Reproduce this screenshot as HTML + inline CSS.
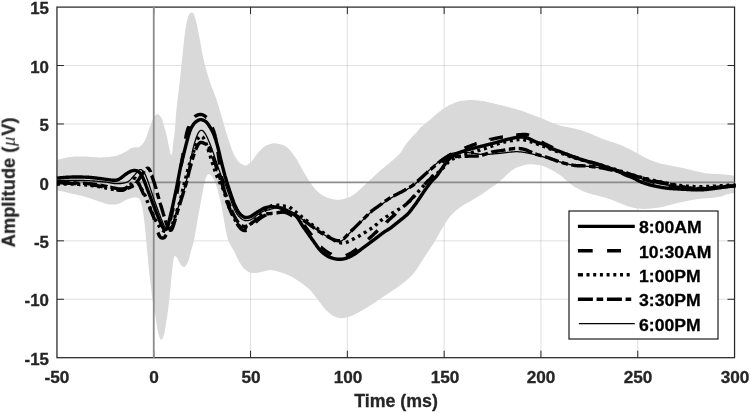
<!DOCTYPE html><html><head><meta charset="utf-8"><title>chart</title><style>
html,body{margin:0;padding:0;background:#fff}
#c{position:relative;width:750px;height:413px;overflow:hidden;background:#fff;font-family:"Liberation Sans",sans-serif;font-weight:bold;color:#262626}
.t{position:absolute;white-space:nowrap;line-height:1;will-change:transform;-webkit-text-stroke:0.3px #262626}
.yt{font-size:16.4px;text-align:right;width:40px;left:8.8px;transform-origin:100% 50%;transform:scaleX(1.03)}
.xt{font-size:16.4px;text-align:center;width:60px;transform:scaleX(1.05)}
.lg{font-size:17.2px;left:638.8px;color:#000;-webkit-text-stroke:0.3px #000;transform-origin:0 50%;transform:scaleX(1.025)}
</style></head><body><div id="c">
<svg width="750" height="413" viewBox="0 0 750 413" style="position:absolute;left:0;top:0">
<rect x="0" y="0" width="750" height="413" fill="#fff"/>
<path d="M250.55,7.1 V357.7 M347.35,7.1 V357.7 M444.15,7.1 V357.7 M540.95,7.1 V357.7 M637.75,7.1 V357.7" stroke="#000" stroke-opacity="0.125" stroke-width="1" fill="none"/>
<path d="M56.95,65.53 H734.55 M56.95,123.97 H734.55 M56.95,240.83 H734.55 M56.95,299.27 H734.55" stroke="#000" stroke-opacity="0.125" stroke-width="1" fill="none"/>
<path d="M57.0,159.8 L57.5,159.7 L58.0,159.6 L58.5,159.5 L59.0,159.4 L59.5,159.3 L60.0,159.2 L60.5,159.1 L61.0,159.0 L61.5,158.9 L62.0,158.7 L62.5,158.6 L63.0,158.5 L63.5,158.3 L64.0,158.2 L64.5,158.1 L65.0,158.0 L65.5,157.8 L66.0,157.7 L66.5,157.6 L67.0,157.5 L67.5,157.4 L68.0,157.3 L68.5,157.2 L69.0,157.1 L69.5,157.1 L70.0,157.0 L70.5,157.0 L71.0,156.9 L71.5,156.9 L72.0,156.8 L72.5,156.8 L73.0,156.7 L73.5,156.7 L74.0,156.7 L74.5,156.6 L75.0,156.6 L75.5,156.6 L76.0,156.5 L76.5,156.5 L77.0,156.5 L77.5,156.4 L78.0,156.4 L78.5,156.4 L79.0,156.4 L79.5,156.4 L80.0,156.4 L80.5,156.4 L81.0,156.4 L81.5,156.4 L82.0,156.4 L82.5,156.4 L83.0,156.5 L83.5,156.5 L84.0,156.5 L84.5,156.5 L85.0,156.5 L85.5,156.6 L86.0,156.6 L86.5,156.6 L87.0,156.6 L87.5,156.7 L88.0,156.7 L88.5,156.7 L89.0,156.7 L89.5,156.8 L90.0,156.8 L90.5,156.8 L91.0,156.9 L91.5,156.9 L92.0,156.9 L92.5,157.0 L93.0,157.0 L93.5,157.0 L94.0,157.1 L94.5,157.1 L95.0,157.2 L95.5,157.2 L96.0,157.2 L96.5,157.3 L97.0,157.3 L97.5,157.3 L98.0,157.4 L98.5,157.4 L99.0,157.4 L99.5,157.4 L100.0,157.4 L100.5,157.4 L101.0,157.4 L101.5,157.4 L102.0,157.4 L102.5,157.3 L103.0,157.3 L103.5,157.3 L104.0,157.3 L104.5,157.2 L105.0,157.2 L105.5,157.2 L106.0,157.1 L106.5,157.1 L107.0,157.1 L107.5,157.0 L108.0,157.0 L108.5,157.0 L109.0,156.9 L109.5,156.9 L110.0,156.8 L110.5,156.8 L111.0,156.7 L111.5,156.6 L112.0,156.5 L112.5,156.5 L113.0,156.4 L113.5,156.3 L114.0,156.2 L114.5,156.1 L115.0,156.0 L115.5,155.9 L116.0,155.8 L116.5,155.7 L117.0,155.5 L117.5,155.4 L118.0,155.2 L118.5,155.0 L119.0,154.8 L119.5,154.6 L120.0,154.4 L120.5,154.2 L121.0,153.9 L121.5,153.7 L122.0,153.5 L122.5,153.3 L123.0,153.0 L123.5,152.8 L124.0,152.6 L124.5,152.3 L125.0,152.0 L125.5,151.8 L126.0,151.5 L126.5,151.2 L127.0,150.9 L127.5,150.6 L128.0,150.3 L128.5,149.9 L129.0,149.5 L129.5,149.2 L130.0,148.8 L130.5,148.5 L131.0,148.2 L131.5,148.0 L132.0,147.8 L132.5,147.7 L133.0,147.6 L133.5,147.5 L134.0,147.4 L134.5,147.3 L135.0,147.3 L135.5,147.2 L136.0,147.2 L136.5,147.2 L137.0,147.2 L137.5,147.3 L138.0,147.3 L138.5,147.3 L139.0,147.1 L139.5,146.8 L140.0,146.4 L140.5,146.0 L141.0,145.5 L141.5,145.0 L142.0,144.6 L142.5,144.0 L143.0,143.4 L143.5,142.8 L144.0,142.1 L144.5,141.3 L145.0,140.4 L145.5,139.3 L146.0,138.0 L146.5,136.7 L147.0,135.4 L147.5,134.0 L148.0,132.6 L148.5,131.1 L149.0,129.6 L149.5,128.0 L150.0,126.6 L150.5,125.2 L151.0,123.9 L151.5,122.5 L152.0,121.2 L152.5,119.9 L153.0,118.7 L153.5,117.7 L154.0,116.8 L154.5,116.2 L155.0,115.7 L155.5,115.2 L156.0,114.8 L156.5,114.5 L157.0,114.3 L157.5,114.2 L158.0,114.3 L158.5,114.6 L159.0,115.1 L159.5,115.5 L160.0,116.0 L160.5,116.5 L161.0,117.2 L161.5,118.0 L162.0,119.1 L162.5,120.6 L163.0,122.4 L163.5,124.2 L164.0,126.0 L164.5,127.7 L165.0,129.4 L165.5,131.1 L166.0,132.9 L166.5,134.9 L167.0,137.1 L167.5,139.6 L168.0,142.1 L168.5,144.7 L169.0,147.0 L169.5,149.4 L170.0,151.9 L170.5,154.0 L171.0,155.3 L171.5,155.1 L172.0,153.4 L172.5,150.4 L173.0,144.3 L173.5,140.4 L174.0,137.5 L174.5,134.2 L175.0,128.7 L175.5,121.4 L176.0,114.4 L176.5,109.0 L177.0,104.2 L177.5,99.8 L178.0,95.6 L178.5,91.5 L179.0,87.3 L179.5,83.0 L180.0,78.5 L180.5,74.0 L181.0,69.5 L181.5,64.9 L182.0,60.3 L182.5,55.5 L183.0,50.4 L183.5,45.2 L184.0,40.3 L184.5,35.9 L185.0,32.2 L185.5,29.0 L186.0,26.0 L186.5,23.2 L187.0,20.7 L187.5,18.7 L188.0,17.1 L188.5,15.8 L189.0,14.7 L189.5,13.9 L190.0,13.3 L190.5,12.9 L191.0,12.6 L191.5,12.5 L192.0,12.6 L192.5,12.8 L193.0,13.2 L193.5,13.7 L194.0,14.7 L194.5,16.0 L195.0,17.5 L195.5,19.1 L196.0,20.9 L196.5,23.0 L197.0,25.3 L197.5,27.7 L198.0,30.2 L198.5,32.7 L199.0,35.2 L199.5,37.7 L200.0,40.4 L200.5,43.2 L201.0,46.1 L201.5,49.0 L202.0,51.8 L202.5,54.5 L203.0,56.9 L203.5,59.2 L204.0,61.3 L204.5,63.3 L205.0,65.3 L205.5,67.1 L206.0,69.0 L206.5,70.8 L207.0,72.5 L207.5,74.2 L208.0,75.8 L208.5,77.4 L209.0,79.0 L209.5,80.6 L210.0,82.1 L210.5,83.6 L211.0,85.0 L211.5,86.4 L212.0,87.7 L212.5,89.0 L213.0,90.3 L213.5,91.6 L214.0,92.8 L214.5,94.1 L215.0,95.4 L215.5,96.7 L216.0,98.1 L216.5,99.6 L217.0,101.1 L217.5,102.7 L218.0,104.3 L218.5,106.0 L219.0,107.6 L219.5,109.3 L220.0,111.0 L220.5,112.7 L221.0,114.5 L221.5,116.2 L222.0,117.9 L222.5,119.5 L223.0,121.2 L223.5,122.9 L224.0,124.7 L224.5,126.4 L225.0,128.1 L225.5,129.9 L226.0,131.6 L226.5,133.3 L227.0,134.9 L227.5,136.5 L228.0,138.1 L228.5,139.6 L229.0,141.1 L229.5,142.6 L230.0,144.1 L230.5,145.6 L231.0,147.1 L231.5,148.5 L232.0,149.9 L232.5,151.2 L233.0,152.5 L233.5,153.6 L234.0,154.7 L234.5,155.6 L235.0,156.4 L235.5,157.3 L236.0,158.1 L236.5,158.9 L237.0,159.6 L237.5,160.4 L238.0,161.0 L238.5,161.6 L239.0,162.2 L239.5,162.6 L240.0,163.1 L240.5,163.4 L241.0,163.7 L241.5,164.0 L242.0,164.3 L242.5,164.5 L243.0,164.8 L243.5,165.0 L244.0,165.2 L244.5,165.3 L245.0,165.4 L245.5,165.4 L246.0,165.4 L246.5,165.2 L247.0,165.0 L247.5,164.7 L248.0,164.4 L248.5,164.0 L249.0,163.6 L249.5,163.2 L250.0,162.8 L250.5,162.4 L251.0,162.0 L251.5,161.5 L252.0,160.9 L252.5,160.3 L253.0,159.7 L253.5,159.0 L254.0,158.3 L254.5,157.6 L255.0,156.9 L255.5,156.1 L256.0,155.4 L256.5,154.7 L257.0,154.1 L257.5,153.4 L258.0,152.8 L258.5,152.3 L259.0,151.8 L259.5,151.3 L260.0,150.7 L260.5,150.2 L261.0,149.7 L261.5,149.2 L262.0,148.7 L262.5,148.2 L263.0,147.7 L263.5,147.3 L264.0,146.9 L264.5,146.5 L265.0,146.2 L265.5,145.8 L266.0,145.6 L266.5,145.3 L267.0,145.1 L267.5,145.0 L268.0,144.8 L268.5,144.6 L269.0,144.4 L269.5,144.2 L270.0,144.1 L270.5,143.9 L271.0,143.8 L271.5,143.7 L272.0,143.6 L272.5,143.5 L273.0,143.4 L273.5,143.4 L274.0,143.3 L274.5,143.3 L275.0,143.3 L275.5,143.3 L276.0,143.4 L276.5,143.5 L277.0,143.5 L277.5,143.6 L278.0,143.7 L278.5,143.9 L279.0,144.0 L279.5,144.1 L280.0,144.2 L280.5,144.3 L281.0,144.4 L281.5,144.6 L282.0,144.7 L282.5,144.9 L283.0,145.1 L283.5,145.3 L284.0,145.5 L284.5,145.7 L285.0,146.0 L285.5,146.2 L286.0,146.6 L286.5,146.9 L287.0,147.3 L287.5,147.8 L288.0,148.2 L288.5,148.7 L289.0,149.2 L289.5,149.7 L290.0,150.2 L290.5,150.8 L291.0,151.4 L291.5,152.0 L292.0,152.7 L292.5,153.3 L293.0,154.0 L293.5,154.7 L294.0,155.4 L294.5,156.1 L295.0,156.8 L295.5,157.6 L296.0,158.3 L296.5,159.1 L297.0,159.8 L297.5,160.7 L298.0,161.5 L298.5,162.4 L299.0,163.3 L299.5,164.2 L300.0,165.1 L300.5,166.1 L301.0,167.0 L301.5,167.9 L302.0,168.8 L302.5,169.8 L303.0,170.7 L303.5,171.5 L304.0,172.4 L304.5,173.2 L305.0,174.1 L305.5,175.0 L306.0,175.8 L306.5,176.7 L307.0,177.5 L307.5,178.3 L308.0,179.1 L308.5,179.9 L309.0,180.7 L309.5,181.5 L310.0,182.2 L310.5,182.9 L311.0,183.6 L311.5,184.3 L312.0,185.0 L312.5,185.7 L313.0,186.4 L313.5,187.0 L314.0,187.6 L314.5,188.2 L315.0,188.8 L315.5,189.4 L316.0,189.9 L316.5,190.4 L317.0,190.9 L317.5,191.4 L318.0,191.8 L318.5,192.3 L319.0,192.7 L319.5,193.2 L320.0,193.6 L320.5,194.0 L321.0,194.3 L321.5,194.7 L322.0,195.0 L322.5,195.3 L323.0,195.6 L323.5,195.8 L324.0,196.1 L324.5,196.4 L325.0,196.6 L325.5,196.9 L326.0,197.1 L326.5,197.3 L327.0,197.5 L327.5,197.7 L328.0,197.9 L328.5,198.1 L329.0,198.3 L329.5,198.4 L330.0,198.5 L330.5,198.6 L331.0,198.8 L331.5,198.9 L332.0,199.0 L332.5,199.1 L333.0,199.2 L333.5,199.3 L334.0,199.4 L334.5,199.5 L335.0,199.5 L335.5,199.6 L336.0,199.7 L336.5,199.7 L337.0,199.8 L337.5,199.8 L338.0,199.8 L338.5,199.8 L339.0,199.8 L339.5,199.7 L340.0,199.7 L340.5,199.6 L341.0,199.5 L341.5,199.5 L342.0,199.4 L342.5,199.2 L343.0,199.1 L343.5,199.0 L344.0,198.9 L344.5,198.7 L345.0,198.6 L345.5,198.4 L346.0,198.3 L346.5,198.1 L347.0,198.0 L347.5,197.8 L348.0,197.6 L348.5,197.4 L349.0,197.2 L349.5,196.9 L350.0,196.7 L350.5,196.4 L351.0,196.2 L351.5,195.9 L352.0,195.6 L352.5,195.3 L353.0,195.0 L353.5,194.7 L354.0,194.4 L354.5,194.0 L355.0,193.7 L355.5,193.3 L356.0,192.9 L356.5,192.5 L357.0,192.1 L357.5,191.7 L358.0,191.2 L358.5,190.8 L359.0,190.3 L359.5,189.8 L360.0,189.3 L360.5,188.9 L361.0,188.4 L361.5,187.9 L362.0,187.5 L362.5,187.0 L363.0,186.6 L363.5,186.1 L364.0,185.6 L364.5,185.2 L365.0,184.7 L365.5,184.3 L366.0,183.8 L366.5,183.3 L367.0,182.9 L367.5,182.4 L368.0,181.9 L368.5,181.5 L369.0,181.0 L369.5,180.6 L370.0,180.1 L370.5,179.6 L371.0,179.1 L371.5,178.7 L372.0,178.2 L372.5,177.7 L373.0,177.3 L373.5,176.8 L374.0,176.3 L374.5,175.9 L375.0,175.4 L375.5,174.9 L376.0,174.5 L376.5,174.0 L377.0,173.5 L377.5,173.1 L378.0,172.6 L378.5,172.2 L379.0,171.7 L379.5,171.3 L380.0,170.8 L380.5,170.4 L381.0,170.0 L381.5,169.5 L382.0,169.1 L382.5,168.7 L383.0,168.3 L383.5,167.9 L384.0,167.4 L384.5,167.0 L385.0,166.6 L385.5,166.2 L386.0,165.8 L386.5,165.4 L387.0,165.0 L387.5,164.6 L388.0,164.2 L388.5,163.8 L389.0,163.4 L389.5,163.0 L390.0,162.5 L390.5,162.1 L391.0,161.7 L391.5,161.3 L392.0,160.8 L392.5,160.4 L393.0,159.9 L393.5,159.5 L394.0,159.1 L394.5,158.7 L395.0,158.2 L395.5,157.8 L396.0,157.3 L396.5,156.9 L397.0,156.4 L397.5,156.0 L398.0,155.5 L398.5,155.0 L399.0,154.4 L399.5,153.9 L400.0,153.3 L400.5,152.7 L401.0,151.9 L401.5,151.2 L402.0,150.4 L402.5,149.5 L403.0,148.7 L403.5,147.9 L404.0,147.1 L404.5,146.3 L405.0,145.6 L405.5,145.0 L406.0,144.3 L406.5,143.6 L407.0,143.0 L407.5,142.3 L408.0,141.7 L408.5,141.1 L409.0,140.5 L409.5,139.9 L410.0,139.3 L410.5,138.7 L411.0,138.2 L411.5,137.6 L412.0,137.1 L412.5,136.6 L413.0,136.1 L413.5,135.6 L414.0,135.1 L414.5,134.5 L415.0,134.0 L415.5,133.5 L416.0,133.0 L416.5,132.4 L417.0,131.9 L417.5,131.3 L418.0,130.6 L418.5,130.0 L419.0,129.4 L419.5,128.8 L420.0,128.3 L420.5,127.8 L421.0,127.3 L421.5,126.8 L422.0,126.4 L422.5,125.9 L423.0,125.5 L423.5,125.1 L424.0,124.6 L424.5,124.2 L425.0,123.8 L425.5,123.4 L426.0,123.0 L426.5,122.6 L427.0,122.2 L427.5,121.8 L428.0,121.4 L428.5,121.0 L429.0,120.6 L429.5,120.2 L430.0,119.8 L430.5,119.3 L431.0,118.9 L431.5,118.5 L432.0,118.0 L432.5,117.6 L433.0,117.1 L433.5,116.7 L434.0,116.3 L434.5,115.8 L435.0,115.4 L435.5,114.9 L436.0,114.5 L436.5,114.1 L437.0,113.6 L437.5,113.2 L438.0,112.8 L438.5,112.4 L439.0,112.0 L439.5,111.6 L440.0,111.2 L440.5,110.9 L441.0,110.5 L441.5,110.2 L442.0,109.8 L442.5,109.4 L443.0,109.1 L443.5,108.7 L444.0,108.4 L444.5,108.1 L445.0,107.7 L445.5,107.4 L446.0,107.1 L446.5,106.8 L447.0,106.5 L447.5,106.2 L448.0,105.9 L448.5,105.6 L449.0,105.3 L449.5,105.1 L450.0,104.8 L450.5,104.6 L451.0,104.4 L451.5,104.2 L452.0,103.9 L452.5,103.7 L453.0,103.5 L453.5,103.3 L454.0,103.0 L454.5,102.8 L455.0,102.6 L455.5,102.4 L456.0,102.3 L456.5,102.1 L457.0,101.9 L457.5,101.8 L458.0,101.6 L458.5,101.5 L459.0,101.4 L459.5,101.2 L460.0,101.1 L460.5,101.1 L461.0,101.0 L461.5,100.9 L462.0,100.8 L462.5,100.8 L463.0,100.7 L463.5,100.6 L464.0,100.6 L464.5,100.5 L465.0,100.4 L465.5,100.4 L466.0,100.3 L466.5,100.3 L467.0,100.2 L467.5,100.2 L468.0,100.2 L468.5,100.1 L469.0,100.1 L469.5,100.1 L470.0,100.1 L470.5,100.1 L471.0,100.1 L471.5,100.1 L472.0,100.1 L472.5,100.1 L473.0,100.2 L473.5,100.2 L474.0,100.2 L474.5,100.2 L475.0,100.3 L475.5,100.3 L476.0,100.3 L476.5,100.4 L477.0,100.4 L477.5,100.4 L478.0,100.5 L478.5,100.5 L479.0,100.6 L479.5,100.6 L480.0,100.7 L480.5,100.7 L481.0,100.8 L481.5,100.8 L482.0,100.9 L482.5,101.0 L483.0,101.1 L483.5,101.1 L484.0,101.2 L484.5,101.3 L485.0,101.4 L485.5,101.6 L486.0,101.7 L486.5,101.8 L487.0,101.9 L487.5,102.0 L488.0,102.1 L488.5,102.2 L489.0,102.4 L489.5,102.5 L490.0,102.6 L490.5,102.7 L491.0,102.8 L491.5,102.9 L492.0,103.0 L492.5,103.1 L493.0,103.3 L493.5,103.4 L494.0,103.5 L494.5,103.6 L495.0,103.7 L495.5,103.9 L496.0,104.0 L496.5,104.1 L497.0,104.2 L497.5,104.4 L498.0,104.5 L498.5,104.6 L499.0,104.7 L499.5,104.9 L500.0,105.0 L500.5,105.1 L501.0,105.2 L501.5,105.3 L502.0,105.5 L502.5,105.6 L503.0,105.7 L503.5,105.9 L504.0,106.0 L504.5,106.1 L505.0,106.2 L505.5,106.4 L506.0,106.5 L506.5,106.6 L507.0,106.7 L507.5,106.9 L508.0,107.0 L508.5,107.1 L509.0,107.3 L509.5,107.4 L510.0,107.5 L510.5,107.7 L511.0,107.8 L511.5,107.9 L512.0,108.1 L512.5,108.2 L513.0,108.3 L513.5,108.5 L514.0,108.6 L514.5,108.7 L515.0,108.9 L515.5,109.0 L516.0,109.1 L516.5,109.3 L517.0,109.4 L517.5,109.6 L518.0,109.7 L518.5,109.9 L519.0,110.0 L519.5,110.2 L520.0,110.3 L520.5,110.5 L521.0,110.6 L521.5,110.8 L522.0,111.0 L522.5,111.1 L523.0,111.3 L523.5,111.5 L524.0,111.7 L524.5,111.8 L525.0,112.0 L525.5,112.2 L526.0,112.4 L526.5,112.6 L527.0,112.8 L527.5,113.0 L528.0,113.2 L528.5,113.4 L529.0,113.5 L529.5,113.7 L530.0,113.9 L530.5,114.1 L531.0,114.3 L531.5,114.5 L532.0,114.6 L532.5,114.8 L533.0,115.0 L533.5,115.2 L534.0,115.4 L534.5,115.5 L535.0,115.7 L535.5,115.9 L536.0,116.1 L536.5,116.3 L537.0,116.5 L537.5,116.6 L538.0,116.8 L538.5,117.0 L539.0,117.2 L539.5,117.4 L540.0,117.6 L540.5,117.8 L541.0,118.0 L541.5,118.2 L542.0,118.4 L542.5,118.6 L543.0,118.8 L543.5,119.1 L544.0,119.3 L544.5,119.5 L545.0,119.7 L545.5,119.9 L546.0,120.2 L546.5,120.4 L547.0,120.6 L547.5,120.8 L548.0,121.0 L548.5,121.3 L549.0,121.5 L549.5,121.7 L550.0,121.9 L550.5,122.1 L551.0,122.3 L551.5,122.5 L552.0,122.7 L552.5,122.9 L553.0,123.1 L553.5,123.3 L554.0,123.5 L554.5,123.7 L555.0,123.9 L555.5,124.1 L556.0,124.3 L556.5,124.5 L557.0,124.7 L557.5,124.8 L558.0,125.0 L558.5,125.2 L559.0,125.3 L559.5,125.5 L560.0,125.6 L560.5,125.8 L561.0,125.9 L561.5,126.0 L562.0,126.1 L562.5,126.2 L563.0,126.3 L563.5,126.4 L564.0,126.5 L564.5,126.6 L565.0,126.7 L565.5,126.8 L566.0,126.9 L566.5,127.0 L567.0,127.0 L567.5,127.1 L568.0,127.2 L568.5,127.3 L569.0,127.4 L569.5,127.5 L570.0,127.6 L570.5,127.7 L571.0,127.8 L571.5,127.9 L572.0,128.0 L572.5,128.2 L573.0,128.3 L573.5,128.4 L574.0,128.5 L574.5,128.6 L575.0,128.7 L575.5,128.8 L576.0,129.0 L576.5,129.1 L577.0,129.2 L577.5,129.3 L578.0,129.4 L578.5,129.6 L579.0,129.7 L579.5,129.8 L580.0,130.0 L580.5,130.1 L581.0,130.3 L581.5,130.4 L582.0,130.6 L582.5,130.7 L583.0,130.9 L583.5,131.1 L584.0,131.2 L584.5,131.4 L585.0,131.6 L585.5,131.8 L586.0,132.0 L586.5,132.2 L587.0,132.3 L587.5,132.5 L588.0,132.7 L588.5,132.9 L589.0,133.1 L589.5,133.3 L590.0,133.5 L590.5,133.7 L591.0,133.9 L591.5,134.1 L592.0,134.3 L592.5,134.5 L593.0,134.8 L593.5,135.0 L594.0,135.2 L594.5,135.4 L595.0,135.7 L595.5,135.9 L596.0,136.1 L596.5,136.4 L597.0,136.6 L597.5,136.8 L598.0,137.1 L598.5,137.3 L599.0,137.5 L599.5,137.7 L600.0,137.9 L600.5,138.1 L601.0,138.3 L601.5,138.5 L602.0,138.7 L602.5,138.8 L603.0,139.0 L603.5,139.2 L604.0,139.4 L604.5,139.5 L605.0,139.7 L605.5,139.8 L606.0,140.0 L606.5,140.2 L607.0,140.3 L607.5,140.5 L608.0,140.7 L608.5,140.8 L609.0,141.0 L609.5,141.2 L610.0,141.3 L610.5,141.5 L611.0,141.7 L611.5,141.8 L612.0,142.0 L612.5,142.2 L613.0,142.3 L613.5,142.5 L614.0,142.7 L614.5,142.8 L615.0,143.0 L615.5,143.2 L616.0,143.4 L616.5,143.5 L617.0,143.7 L617.5,143.9 L618.0,144.1 L618.5,144.2 L619.0,144.4 L619.5,144.6 L620.0,144.8 L620.5,145.0 L621.0,145.2 L621.5,145.4 L622.0,145.6 L622.5,145.8 L623.0,146.0 L623.5,146.3 L624.0,146.5 L624.5,146.7 L625.0,146.9 L625.5,147.2 L626.0,147.4 L626.5,147.6 L627.0,147.9 L627.5,148.1 L628.0,148.4 L628.5,148.6 L629.0,148.9 L629.5,149.1 L630.0,149.4 L630.5,149.6 L631.0,149.9 L631.5,150.1 L632.0,150.4 L632.5,150.6 L633.0,150.9 L633.5,151.2 L634.0,151.5 L634.5,151.8 L635.0,152.0 L635.5,152.3 L636.0,152.6 L636.5,152.9 L637.0,153.2 L637.5,153.5 L638.0,153.7 L638.5,154.0 L639.0,154.3 L639.5,154.6 L640.0,154.8 L640.5,155.1 L641.0,155.4 L641.5,155.6 L642.0,155.9 L642.5,156.2 L643.0,156.4 L643.5,156.7 L644.0,157.0 L644.5,157.2 L645.0,157.5 L645.5,157.7 L646.0,158.0 L646.5,158.3 L647.0,158.5 L647.5,158.8 L648.0,159.0 L648.5,159.2 L649.0,159.5 L649.5,159.7 L650.0,159.9 L650.5,160.1 L651.0,160.3 L651.5,160.5 L652.0,160.7 L652.5,160.9 L653.0,161.1 L653.5,161.3 L654.0,161.4 L654.5,161.6 L655.0,161.8 L655.5,162.0 L656.0,162.2 L656.5,162.3 L657.0,162.5 L657.5,162.6 L658.0,162.8 L658.5,162.9 L659.0,163.1 L659.5,163.2 L660.0,163.4 L660.5,163.5 L661.0,163.6 L661.5,163.8 L662.0,163.9 L662.5,164.0 L663.0,164.1 L663.5,164.2 L664.0,164.3 L664.5,164.4 L665.0,164.5 L665.5,164.6 L666.0,164.7 L666.5,164.8 L667.0,164.9 L667.5,165.0 L668.0,165.1 L668.5,165.2 L669.0,165.3 L669.5,165.4 L670.0,165.5 L670.5,165.6 L671.0,165.7 L671.5,165.8 L672.0,165.9 L672.5,166.0 L673.0,166.1 L673.5,166.2 L674.0,166.3 L674.5,166.4 L675.0,166.5 L675.5,166.6 L676.0,166.7 L676.5,166.8 L677.0,166.9 L677.5,167.0 L678.0,167.1 L678.5,167.2 L679.0,167.3 L679.5,167.4 L680.0,167.5 L680.5,167.6 L681.0,167.7 L681.5,167.8 L682.0,167.9 L682.5,168.0 L683.0,168.1 L683.5,168.2 L684.0,168.3 L684.5,168.4 L685.0,168.5 L685.5,168.6 L686.0,168.8 L686.5,168.9 L687.0,169.0 L687.5,169.1 L688.0,169.3 L688.5,169.4 L689.0,169.5 L689.5,169.6 L690.0,169.8 L690.5,169.9 L691.0,170.0 L691.5,170.1 L692.0,170.3 L692.5,170.4 L693.0,170.5 L693.5,170.6 L694.0,170.7 L694.5,170.9 L695.0,171.0 L695.5,171.1 L696.0,171.2 L696.5,171.3 L697.0,171.4 L697.5,171.5 L698.0,171.6 L698.5,171.8 L699.0,171.9 L699.5,172.0 L700.0,172.1 L700.5,172.2 L701.0,172.3 L701.5,172.4 L702.0,172.5 L702.5,172.6 L703.0,172.7 L703.5,172.8 L704.0,172.9 L704.5,173.0 L705.0,173.1 L705.5,173.2 L706.0,173.3 L706.5,173.3 L707.0,173.4 L707.5,173.5 L708.0,173.5 L708.5,173.5 L709.0,173.6 L709.5,173.6 L710.0,173.7 L710.5,173.7 L711.0,173.7 L711.5,173.8 L712.0,173.8 L712.5,173.8 L713.0,173.8 L713.5,173.9 L714.0,173.9 L714.5,173.9 L715.0,173.9 L715.5,174.0 L716.0,174.0 L716.5,174.0 L717.0,174.0 L717.5,174.1 L718.0,174.1 L718.5,174.1 L719.0,174.1 L719.5,174.2 L720.0,174.2 L720.5,174.2 L721.0,174.3 L721.5,174.3 L722.0,174.3 L722.5,174.4 L723.0,174.4 L723.5,174.4 L724.0,174.5 L724.5,174.5 L725.0,174.5 L725.5,174.6 L726.0,174.6 L726.5,174.7 L727.0,174.7 L727.5,174.7 L728.0,174.8 L728.5,174.9 L729.0,174.9 L729.5,175.0 L730.0,175.1 L730.5,175.2 L731.0,175.3 L731.5,175.3 L732.0,175.4 L732.5,175.6 L733.0,175.7 L733.5,175.8 L734.0,175.9 L734.5,176.0 L734.5,193.0 L734.0,193.1 L733.5,193.1 L733.0,193.2 L732.5,193.3 L732.0,193.3 L731.5,193.4 L731.0,193.5 L730.5,193.6 L730.0,193.7 L729.5,193.8 L729.0,193.9 L728.5,194.0 L728.0,194.2 L727.5,194.3 L727.0,194.4 L726.5,194.6 L726.0,194.7 L725.5,194.9 L725.0,195.1 L724.5,195.3 L724.0,195.5 L723.5,195.7 L723.0,195.9 L722.5,196.0 L722.0,196.2 L721.5,196.4 L721.0,196.5 L720.5,196.6 L720.0,196.7 L719.5,196.8 L719.0,196.9 L718.5,197.0 L718.0,197.0 L717.5,197.1 L717.0,197.2 L716.5,197.3 L716.0,197.3 L715.5,197.4 L715.0,197.5 L714.5,197.5 L714.0,197.6 L713.5,197.6 L713.0,197.7 L712.5,197.7 L712.0,197.8 L711.5,197.9 L711.0,197.9 L710.5,198.0 L710.0,198.0 L709.5,198.0 L709.0,198.1 L708.5,198.1 L708.0,198.2 L707.5,198.2 L707.0,198.2 L706.5,198.3 L706.0,198.3 L705.5,198.3 L705.0,198.4 L704.5,198.4 L704.0,198.4 L703.5,198.5 L703.0,198.5 L702.5,198.5 L702.0,198.6 L701.5,198.6 L701.0,198.7 L700.5,198.7 L700.0,198.8 L699.5,198.8 L699.0,198.9 L698.5,199.0 L698.0,199.0 L697.5,199.1 L697.0,199.2 L696.5,199.3 L696.0,199.4 L695.5,199.4 L695.0,199.5 L694.5,199.6 L694.0,199.7 L693.5,199.8 L693.0,199.9 L692.5,200.0 L692.0,200.1 L691.5,200.2 L691.0,200.2 L690.5,200.3 L690.0,200.4 L689.5,200.5 L689.0,200.6 L688.5,200.7 L688.0,200.8 L687.5,200.9 L687.0,201.0 L686.5,201.1 L686.0,201.2 L685.5,201.3 L685.0,201.4 L684.5,201.5 L684.0,201.6 L683.5,201.7 L683.0,201.8 L682.5,201.9 L682.0,202.0 L681.5,202.1 L681.0,202.2 L680.5,202.3 L680.0,202.4 L679.5,202.5 L679.0,202.7 L678.5,202.8 L678.0,202.9 L677.5,203.0 L677.0,203.1 L676.5,203.2 L676.0,203.4 L675.5,203.5 L675.0,203.6 L674.5,203.7 L674.0,203.9 L673.5,204.0 L673.0,204.1 L672.5,204.2 L672.0,204.4 L671.5,204.5 L671.0,204.6 L670.5,204.7 L670.0,204.9 L669.5,205.0 L669.0,205.1 L668.5,205.3 L668.0,205.4 L667.5,205.5 L667.0,205.7 L666.5,205.8 L666.0,206.0 L665.5,206.1 L665.0,206.3 L664.5,206.4 L664.0,206.5 L663.5,206.7 L663.0,206.8 L662.5,206.9 L662.0,207.0 L661.5,207.1 L661.0,207.2 L660.5,207.3 L660.0,207.4 L659.5,207.5 L659.0,207.5 L658.5,207.6 L658.0,207.7 L657.5,207.7 L657.0,207.8 L656.5,207.9 L656.0,207.9 L655.5,208.0 L655.0,208.0 L654.5,208.1 L654.0,208.2 L653.5,208.2 L653.0,208.3 L652.5,208.3 L652.0,208.3 L651.5,208.4 L651.0,208.4 L650.5,208.5 L650.0,208.5 L649.5,208.6 L649.0,208.6 L648.5,208.7 L648.0,208.7 L647.5,208.8 L647.0,208.8 L646.5,208.8 L646.0,208.9 L645.5,208.9 L645.0,208.9 L644.5,208.9 L644.0,208.9 L643.5,208.9 L643.0,208.9 L642.5,208.9 L642.0,208.8 L641.5,208.8 L641.0,208.8 L640.5,208.7 L640.0,208.7 L639.5,208.6 L639.0,208.6 L638.5,208.5 L638.0,208.5 L637.5,208.4 L637.0,208.4 L636.5,208.3 L636.0,208.2 L635.5,208.2 L635.0,208.1 L634.5,208.0 L634.0,207.9 L633.5,207.8 L633.0,207.7 L632.5,207.5 L632.0,207.4 L631.5,207.3 L631.0,207.1 L630.5,207.0 L630.0,206.8 L629.5,206.7 L629.0,206.5 L628.5,206.4 L628.0,206.2 L627.5,206.1 L627.0,205.9 L626.5,205.7 L626.0,205.5 L625.5,205.3 L625.0,205.2 L624.5,205.0 L624.0,204.8 L623.5,204.6 L623.0,204.4 L622.5,204.2 L622.0,204.0 L621.5,203.8 L621.0,203.6 L620.5,203.4 L620.0,203.2 L619.5,203.0 L619.0,202.8 L618.5,202.6 L618.0,202.4 L617.5,202.2 L617.0,202.0 L616.5,201.7 L616.0,201.5 L615.5,201.3 L615.0,201.1 L614.5,200.9 L614.0,200.7 L613.5,200.5 L613.0,200.3 L612.5,200.1 L612.0,199.9 L611.5,199.7 L611.0,199.5 L610.5,199.4 L610.0,199.2 L609.5,199.0 L609.0,198.9 L608.5,198.7 L608.0,198.5 L607.5,198.4 L607.0,198.2 L606.5,198.1 L606.0,197.9 L605.5,197.8 L605.0,197.6 L604.5,197.5 L604.0,197.4 L603.5,197.2 L603.0,197.1 L602.5,196.9 L602.0,196.8 L601.5,196.7 L601.0,196.5 L600.5,196.4 L600.0,196.2 L599.5,196.1 L599.0,196.0 L598.5,195.9 L598.0,195.7 L597.5,195.6 L597.0,195.5 L596.5,195.4 L596.0,195.3 L595.5,195.1 L595.0,195.0 L594.5,194.9 L594.0,194.8 L593.5,194.7 L593.0,194.5 L592.5,194.4 L592.0,194.2 L591.5,194.1 L591.0,194.0 L590.5,193.8 L590.0,193.7 L589.5,193.5 L589.0,193.4 L588.5,193.2 L588.0,193.0 L587.5,192.9 L587.0,192.7 L586.5,192.5 L586.0,192.4 L585.5,192.2 L585.0,192.0 L584.5,191.8 L584.0,191.6 L583.5,191.4 L583.0,191.2 L582.5,191.0 L582.0,190.8 L581.5,190.6 L581.0,190.3 L580.5,190.1 L580.0,189.8 L579.5,189.6 L579.0,189.3 L578.5,189.1 L578.0,188.8 L577.5,188.5 L577.0,188.3 L576.5,188.0 L576.0,187.7 L575.5,187.4 L575.0,187.1 L574.5,186.7 L574.0,186.4 L573.5,186.1 L573.0,185.7 L572.5,185.4 L572.0,185.0 L571.5,184.6 L571.0,184.3 L570.5,183.9 L570.0,183.5 L569.5,183.1 L569.0,182.7 L568.5,182.3 L568.0,181.9 L567.5,181.5 L567.0,181.1 L566.5,180.7 L566.0,180.2 L565.5,179.8 L565.0,179.3 L564.5,178.9 L564.0,178.4 L563.5,177.9 L563.0,177.5 L562.5,177.1 L562.0,176.6 L561.5,176.2 L561.0,175.8 L560.5,175.4 L560.0,175.1 L559.5,174.7 L559.0,174.4 L558.5,174.1 L558.0,173.7 L557.5,173.4 L557.0,173.1 L556.5,172.7 L556.0,172.4 L555.5,172.1 L555.0,171.8 L554.5,171.5 L554.0,171.2 L553.5,171.0 L553.0,170.7 L552.5,170.4 L552.0,170.1 L551.5,169.9 L551.0,169.6 L550.5,169.4 L550.0,169.2 L549.5,168.9 L549.0,168.7 L548.5,168.4 L548.0,168.2 L547.5,167.9 L547.0,167.7 L546.5,167.5 L546.0,167.2 L545.5,167.0 L545.0,166.8 L544.5,166.6 L544.0,166.4 L543.5,166.2 L543.0,166.0 L542.5,165.9 L542.0,165.7 L541.5,165.6 L541.0,165.5 L540.5,165.4 L540.0,165.3 L539.5,165.2 L539.0,165.1 L538.5,165.0 L538.0,165.0 L537.5,164.9 L537.0,164.8 L536.5,164.8 L536.0,164.7 L535.5,164.6 L535.0,164.6 L534.5,164.5 L534.0,164.5 L533.5,164.4 L533.0,164.4 L532.5,164.4 L532.0,164.3 L531.5,164.3 L531.0,164.3 L530.5,164.3 L530.0,164.3 L529.5,164.3 L529.0,164.3 L528.5,164.4 L528.0,164.4 L527.5,164.5 L527.0,164.6 L526.5,164.7 L526.0,164.8 L525.5,164.9 L525.0,165.0 L524.5,165.1 L524.0,165.2 L523.5,165.3 L523.0,165.5 L522.5,165.6 L522.0,165.8 L521.5,165.9 L521.0,166.0 L520.5,166.2 L520.0,166.3 L519.5,166.5 L519.0,166.7 L518.5,166.8 L518.0,167.0 L517.5,167.3 L517.0,167.5 L516.5,167.7 L516.0,168.0 L515.5,168.2 L515.0,168.5 L514.5,168.8 L514.0,169.1 L513.5,169.4 L513.0,169.7 L512.5,170.0 L512.0,170.3 L511.5,170.6 L511.0,171.0 L510.5,171.4 L510.0,171.8 L509.5,172.3 L509.0,172.7 L508.5,173.2 L508.0,173.6 L507.5,174.1 L507.0,174.6 L506.5,175.0 L506.0,175.5 L505.5,176.0 L505.0,176.4 L504.5,176.9 L504.0,177.4 L503.5,177.9 L503.0,178.4 L502.5,178.8 L502.0,179.3 L501.5,179.8 L501.0,180.3 L500.5,180.8 L500.0,181.2 L499.5,181.7 L499.0,182.1 L498.5,182.5 L498.0,182.9 L497.5,183.3 L497.0,183.7 L496.5,184.0 L496.0,184.4 L495.5,184.7 L495.0,185.1 L494.5,185.4 L494.0,185.7 L493.5,186.1 L493.0,186.4 L492.5,186.7 L492.0,187.1 L491.5,187.4 L491.0,187.8 L490.5,188.1 L490.0,188.4 L489.5,188.8 L489.0,189.2 L488.5,189.5 L488.0,189.9 L487.5,190.2 L487.0,190.6 L486.5,190.9 L486.0,191.3 L485.5,191.6 L485.0,192.0 L484.5,192.3 L484.0,192.7 L483.5,193.0 L483.0,193.4 L482.5,193.7 L482.0,194.0 L481.5,194.4 L481.0,194.7 L480.5,195.0 L480.0,195.4 L479.5,195.7 L479.0,196.0 L478.5,196.3 L478.0,196.6 L477.5,196.9 L477.0,197.2 L476.5,197.5 L476.0,197.8 L475.5,198.1 L475.0,198.4 L474.5,198.7 L474.0,199.0 L473.5,199.3 L473.0,199.6 L472.5,199.9 L472.0,200.2 L471.5,200.5 L471.0,200.8 L470.5,201.1 L470.0,201.4 L469.5,201.7 L469.0,202.0 L468.5,202.3 L468.0,202.6 L467.5,202.9 L467.0,203.1 L466.5,203.4 L466.0,203.7 L465.5,204.0 L465.0,204.3 L464.5,204.5 L464.0,204.8 L463.5,205.1 L463.0,205.4 L462.5,205.7 L462.0,206.0 L461.5,206.4 L461.0,206.7 L460.5,207.1 L460.0,207.4 L459.5,207.8 L459.0,208.2 L458.5,208.5 L458.0,208.9 L457.5,209.3 L457.0,209.7 L456.5,210.1 L456.0,210.6 L455.5,211.0 L455.0,211.4 L454.5,211.9 L454.0,212.4 L453.5,212.8 L453.0,213.3 L452.5,213.8 L452.0,214.4 L451.5,214.9 L451.0,215.4 L450.5,216.0 L450.0,216.5 L449.5,217.2 L449.0,217.8 L448.5,218.5 L448.0,219.2 L447.5,219.9 L447.0,220.6 L446.5,221.4 L446.0,222.1 L445.5,222.9 L445.0,223.7 L444.5,224.5 L444.0,225.4 L443.5,226.2 L443.0,227.0 L442.5,227.8 L442.0,228.6 L441.5,229.5 L441.0,230.3 L440.5,231.2 L440.0,232.1 L439.5,233.0 L439.0,233.9 L438.5,234.8 L438.0,235.7 L437.5,236.6 L437.0,237.5 L436.5,238.5 L436.0,239.3 L435.5,240.2 L435.0,241.1 L434.5,241.9 L434.0,242.7 L433.5,243.5 L433.0,244.3 L432.5,245.0 L432.0,245.8 L431.5,246.5 L431.0,247.3 L430.5,248.0 L430.0,248.7 L429.5,249.4 L429.0,250.2 L428.5,250.9 L428.0,251.6 L427.5,252.4 L427.0,253.2 L426.5,253.9 L426.0,254.7 L425.5,255.5 L425.0,256.3 L424.5,257.0 L424.0,257.8 L423.5,258.6 L423.0,259.4 L422.5,260.2 L422.0,261.0 L421.5,261.8 L421.0,262.6 L420.5,263.3 L420.0,264.1 L419.5,264.9 L419.0,265.7 L418.5,266.5 L418.0,267.3 L417.5,268.1 L417.0,268.8 L416.5,269.6 L416.0,270.4 L415.5,271.1 L415.0,271.7 L414.5,272.3 L414.0,272.9 L413.5,273.5 L413.0,274.1 L412.5,274.6 L412.0,275.2 L411.5,275.7 L411.0,276.2 L410.5,276.7 L410.0,277.2 L409.5,277.7 L409.0,278.1 L408.5,278.6 L408.0,279.1 L407.5,279.5 L407.0,279.9 L406.5,280.4 L406.0,280.8 L405.5,281.2 L405.0,281.6 L404.5,282.0 L404.0,282.4 L403.5,282.8 L403.0,283.2 L402.5,283.6 L402.0,284.0 L401.5,284.3 L401.0,284.7 L400.5,285.1 L400.0,285.4 L399.5,285.8 L399.0,286.1 L398.5,286.5 L398.0,286.8 L397.5,287.2 L397.0,287.5 L396.5,287.9 L396.0,288.2 L395.5,288.6 L395.0,288.9 L394.5,289.3 L394.0,289.6 L393.5,290.0 L393.0,290.3 L392.5,290.7 L392.0,291.0 L391.5,291.3 L391.0,291.7 L390.5,292.0 L390.0,292.3 L389.5,292.7 L389.0,293.0 L388.5,293.3 L388.0,293.6 L387.5,294.0 L387.0,294.3 L386.5,294.6 L386.0,295.0 L385.5,295.3 L385.0,295.6 L384.5,295.9 L384.0,296.3 L383.5,296.6 L383.0,296.9 L382.5,297.3 L382.0,297.6 L381.5,297.9 L381.0,298.3 L380.5,298.6 L380.0,299.0 L379.5,299.3 L379.0,299.6 L378.5,300.0 L378.0,300.3 L377.5,300.7 L377.0,301.0 L376.5,301.3 L376.0,301.7 L375.5,302.0 L375.0,302.4 L374.5,302.7 L374.0,303.0 L373.5,303.4 L373.0,303.7 L372.5,304.0 L372.0,304.3 L371.5,304.7 L371.0,305.0 L370.5,305.3 L370.0,305.6 L369.5,305.9 L369.0,306.2 L368.5,306.6 L368.0,306.9 L367.5,307.2 L367.0,307.5 L366.5,307.8 L366.0,308.1 L365.5,308.4 L365.0,308.7 L364.5,309.0 L364.0,309.3 L363.5,309.6 L363.0,309.9 L362.5,310.2 L362.0,310.5 L361.5,310.7 L361.0,311.0 L360.5,311.3 L360.0,311.6 L359.5,311.9 L359.0,312.1 L358.5,312.4 L358.0,312.7 L357.5,313.0 L357.0,313.3 L356.5,313.5 L356.0,313.8 L355.5,314.1 L355.0,314.3 L354.5,314.6 L354.0,314.8 L353.5,315.1 L353.0,315.3 L352.5,315.5 L352.0,315.7 L351.5,315.9 L351.0,316.1 L350.5,316.3 L350.0,316.4 L349.5,316.6 L349.0,316.7 L348.5,316.9 L348.0,317.0 L347.5,317.2 L347.0,317.3 L346.5,317.5 L346.0,317.6 L345.5,317.7 L345.0,317.9 L344.5,318.0 L344.0,318.1 L343.5,318.1 L343.0,318.2 L342.5,318.3 L342.0,318.3 L341.5,318.3 L341.0,318.3 L340.5,318.3 L340.0,318.2 L339.5,318.1 L339.0,318.0 L338.5,317.9 L338.0,317.7 L337.5,317.5 L337.0,317.4 L336.5,317.2 L336.0,317.0 L335.5,316.8 L335.0,316.6 L334.5,316.4 L334.0,316.2 L333.5,315.9 L333.0,315.7 L332.5,315.4 L332.0,315.1 L331.5,314.7 L331.0,314.4 L330.5,314.0 L330.0,313.6 L329.5,313.2 L329.0,312.7 L328.5,312.3 L328.0,311.9 L327.5,311.4 L327.0,311.0 L326.5,310.5 L326.0,310.0 L325.5,309.5 L325.0,309.0 L324.5,308.4 L324.0,307.8 L323.5,307.2 L323.0,306.6 L322.5,305.9 L322.0,305.3 L321.5,304.6 L321.0,304.0 L320.5,303.3 L320.0,302.6 L319.5,302.0 L319.0,301.3 L318.5,300.7 L318.0,300.0 L317.5,299.4 L317.0,298.8 L316.5,298.1 L316.0,297.4 L315.5,296.7 L315.0,296.1 L314.5,295.4 L314.0,294.7 L313.5,294.1 L313.0,293.4 L312.5,292.8 L312.0,292.2 L311.5,291.6 L311.0,291.0 L310.5,290.5 L310.0,290.0 L309.5,289.5 L309.0,289.1 L308.5,288.6 L308.0,288.1 L307.5,287.7 L307.0,287.3 L306.5,286.9 L306.0,286.5 L305.5,286.1 L305.0,285.7 L304.5,285.3 L304.0,284.9 L303.5,284.5 L303.0,284.2 L302.5,283.8 L302.0,283.5 L301.5,283.1 L301.0,282.8 L300.5,282.4 L300.0,282.1 L299.5,281.7 L299.0,281.4 L298.5,281.0 L298.0,280.7 L297.5,280.4 L297.0,280.1 L296.5,279.7 L296.0,279.4 L295.5,279.1 L295.0,278.8 L294.5,278.5 L294.0,278.2 L293.5,277.9 L293.0,277.6 L292.5,277.3 L292.0,277.1 L291.5,276.8 L291.0,276.5 L290.5,276.3 L290.0,276.1 L289.5,275.8 L289.0,275.6 L288.5,275.3 L288.0,275.1 L287.5,274.9 L287.0,274.7 L286.5,274.4 L286.0,274.2 L285.5,274.0 L285.0,273.8 L284.5,273.6 L284.0,273.4 L283.5,273.2 L283.0,273.0 L282.5,272.9 L282.0,272.7 L281.5,272.5 L281.0,272.4 L280.5,272.2 L280.0,272.1 L279.5,272.0 L279.0,271.8 L278.5,271.7 L278.0,271.6 L277.5,271.4 L277.0,271.3 L276.5,271.1 L276.0,271.0 L275.5,270.9 L275.0,270.8 L274.5,270.7 L274.0,270.5 L273.5,270.5 L273.0,270.4 L272.5,270.3 L272.0,270.2 L271.5,270.2 L271.0,270.1 L270.5,270.1 L270.0,270.1 L269.5,270.1 L269.0,270.2 L268.5,270.2 L268.0,270.3 L267.5,270.4 L267.0,270.5 L266.5,270.7 L266.0,270.8 L265.5,271.0 L265.0,271.1 L264.5,271.3 L264.0,271.4 L263.5,271.5 L263.0,271.6 L262.5,271.7 L262.0,271.8 L261.5,272.0 L261.0,272.1 L260.5,272.2 L260.0,272.3 L259.5,272.4 L259.0,272.5 L258.5,272.6 L258.0,272.7 L257.5,272.8 L257.0,272.9 L256.5,273.0 L256.0,273.0 L255.5,273.1 L255.0,273.1 L254.5,273.1 L254.0,273.1 L253.5,273.1 L253.0,273.0 L252.5,273.0 L252.0,272.9 L251.5,272.8 L251.0,272.8 L250.5,272.7 L250.0,272.6 L249.5,272.4 L249.0,272.2 L248.5,271.9 L248.0,271.7 L247.5,271.3 L247.0,271.0 L246.5,270.6 L246.0,270.2 L245.5,269.8 L245.0,269.4 L244.5,269.0 L244.0,268.5 L243.5,268.0 L243.0,267.4 L242.5,266.8 L242.0,266.1 L241.5,265.4 L241.0,264.6 L240.5,263.8 L240.0,263.0 L239.5,262.2 L239.0,261.4 L238.5,260.5 L238.0,259.6 L237.5,258.6 L237.0,257.5 L236.5,256.4 L236.0,255.3 L235.5,254.1 L235.0,253.0 L234.5,252.0 L234.0,251.0 L233.5,250.2 L233.0,249.3 L232.5,248.5 L232.0,247.7 L231.5,246.9 L231.0,246.1 L230.5,245.2 L230.0,244.3 L229.5,243.3 L229.0,242.3 L228.5,241.1 L228.0,239.7 L227.5,238.1 L227.0,236.2 L226.5,234.0 L226.0,231.5 L225.5,228.9 L225.0,226.2 L224.5,223.3 L224.0,220.4 L223.5,217.4 L223.0,214.4 L222.5,211.6 L222.0,208.7 L221.5,206.1 L221.0,203.6 L220.5,201.3 L220.0,199.2 L219.5,197.2 L219.0,195.2 L218.5,193.2 L218.0,191.3 L217.5,189.5 L217.0,187.8 L216.5,186.2 L216.0,184.6 L215.5,183.2 L215.0,182.0 L214.5,180.9 L214.0,179.8 L213.5,178.8 L213.0,177.9 L212.5,177.1 L212.0,176.5 L211.5,175.9 L211.0,175.3 L210.5,174.8 L210.0,174.4 L209.5,174.1 L209.0,174.0 L208.5,174.1 L208.0,174.5 L207.5,175.1 L207.0,175.7 L206.5,176.5 L206.0,177.6 L205.5,179.1 L205.0,181.0 L204.5,182.9 L204.0,185.0 L203.5,187.5 L203.0,190.1 L202.5,192.8 L202.0,195.6 L201.5,198.4 L201.0,201.1 L200.5,203.7 L200.0,206.4 L199.5,209.0 L199.0,211.7 L198.5,214.5 L198.0,217.2 L197.5,220.0 L197.0,222.9 L196.5,226.0 L196.0,229.1 L195.5,232.2 L195.0,235.2 L194.5,237.9 L194.0,240.3 L193.5,242.4 L193.0,244.2 L192.5,245.9 L192.0,247.6 L191.5,249.3 L191.0,251.1 L190.5,253.1 L190.0,255.1 L189.5,257.1 L189.0,258.9 L188.5,260.5 L188.0,261.7 L187.5,262.9 L187.0,264.0 L186.5,264.8 L186.0,265.5 L185.5,266.0 L185.0,266.5 L184.5,266.9 L184.0,267.1 L183.5,267.0 L183.0,266.8 L182.5,266.4 L182.0,266.0 L181.5,265.5 L181.0,264.9 L180.5,264.2 L180.0,263.4 L179.5,262.5 L179.0,261.6 L178.5,260.5 L178.0,259.4 L177.5,258.3 L177.0,257.5 L176.5,256.9 L176.0,256.4 L175.5,256.1 L175.0,256.1 L174.5,256.6 L174.0,257.6 L173.5,259.0 L173.0,262.2 L172.5,267.1 L172.0,272.0 L171.5,276.9 L171.0,282.1 L170.5,287.3 L170.0,292.5 L169.5,297.5 L169.0,302.1 L168.5,306.5 L168.0,310.5 L167.5,314.0 L167.0,317.4 L166.5,320.6 L166.0,323.7 L165.5,326.9 L165.0,330.1 L164.5,332.8 L164.0,334.8 L163.5,336.1 L163.0,337.3 L162.5,338.4 L162.0,339.2 L161.5,339.6 L161.0,339.7 L160.5,339.2 L160.0,338.3 L159.5,337.3 L159.0,336.0 L158.5,334.3 L158.0,332.0 L157.5,329.4 L157.0,326.7 L156.5,323.3 L156.0,319.8 L155.5,316.5 L155.0,314.1 L154.5,312.0 L154.0,309.3 L153.5,306.3 L153.0,303.0 L152.5,299.5 L152.0,295.8 L151.5,291.8 L151.0,287.8 L150.5,283.6 L150.0,279.3 L149.5,274.8 L149.0,269.9 L148.5,264.8 L148.0,259.5 L147.5,254.2 L147.0,248.9 L146.5,243.5 L146.0,238.2 L145.5,232.8 L145.0,227.6 L144.5,223.0 L144.0,218.9 L143.5,215.0 L143.0,211.4 L142.5,208.4 L142.0,206.1 L141.5,204.2 L141.0,202.5 L140.5,201.1 L140.0,200.0 L139.5,199.1 L139.0,198.4 L138.5,198.0 L138.0,197.9 L137.5,197.8 L137.0,197.7 L136.5,197.7 L136.0,197.6 L135.5,197.6 L135.0,197.5 L134.5,197.5 L134.0,197.5 L133.5,197.5 L133.0,197.6 L132.5,197.7 L132.0,197.8 L131.5,198.0 L131.0,198.1 L130.5,198.3 L130.0,198.4 L129.5,198.6 L129.0,198.8 L128.5,198.9 L128.0,199.1 L127.5,199.4 L127.0,199.6 L126.5,199.8 L126.0,200.0 L125.5,200.3 L125.0,200.5 L124.5,200.7 L124.0,201.0 L123.5,201.3 L123.0,201.6 L122.5,201.9 L122.0,202.2 L121.5,202.5 L121.0,202.7 L120.5,203.0 L120.0,203.2 L119.5,203.3 L119.0,203.5 L118.5,203.7 L118.0,203.9 L117.5,204.1 L117.0,204.2 L116.5,204.3 L116.0,204.4 L115.5,204.5 L115.0,204.5 L114.5,204.5 L114.0,204.5 L113.5,204.5 L113.0,204.5 L112.5,204.5 L112.0,204.5 L111.5,204.5 L111.0,204.5 L110.5,204.5 L110.0,204.5 L109.5,204.5 L109.0,204.4 L108.5,204.4 L108.0,204.3 L107.5,204.2 L107.0,204.1 L106.5,203.9 L106.0,203.8 L105.5,203.6 L105.0,203.5 L104.5,203.3 L104.0,203.2 L103.5,203.0 L103.0,202.8 L102.5,202.6 L102.0,202.5 L101.5,202.3 L101.0,202.1 L100.5,202.0 L100.0,201.8 L99.5,201.6 L99.0,201.5 L98.5,201.3 L98.0,201.2 L97.5,201.0 L97.0,200.8 L96.5,200.6 L96.0,200.4 L95.5,200.2 L95.0,200.1 L94.5,199.9 L94.0,199.7 L93.5,199.5 L93.0,199.3 L92.5,199.1 L92.0,199.0 L91.5,198.8 L91.0,198.6 L90.5,198.5 L90.0,198.3 L89.5,198.1 L89.0,198.0 L88.5,197.8 L88.0,197.7 L87.5,197.5 L87.0,197.4 L86.5,197.2 L86.0,197.1 L85.5,197.0 L85.0,196.8 L84.5,196.7 L84.0,196.5 L83.5,196.4 L83.0,196.3 L82.5,196.1 L82.0,196.0 L81.5,195.9 L81.0,195.7 L80.5,195.6 L80.0,195.5 L79.5,195.4 L79.0,195.3 L78.5,195.1 L78.0,195.0 L77.5,194.9 L77.0,194.8 L76.5,194.7 L76.0,194.6 L75.5,194.5 L75.0,194.4 L74.5,194.3 L74.0,194.2 L73.5,194.1 L73.0,194.0 L72.5,193.9 L72.0,193.7 L71.5,193.6 L71.0,193.5 L70.5,193.4 L70.0,193.3 L69.5,193.2 L69.0,193.1 L68.5,192.9 L68.0,192.8 L67.5,192.7 L67.0,192.5 L66.5,192.4 L66.0,192.3 L65.5,192.1 L65.0,192.0 L64.5,191.9 L64.0,191.7 L63.5,191.6 L63.0,191.5 L62.5,191.4 L62.0,191.2 L61.5,191.1 L61.0,191.0 L60.5,190.9 L60.0,190.8 L59.5,190.7 L59.0,190.6 L58.5,190.5 L58.0,190.5 L57.5,190.4 L57.0,190.3Z" fill="#d9d9d9" stroke="none"/>
<path d="M153.75,357.7 v-7 M153.75,7.1 v7 M250.55,357.7 v-7 M250.55,7.1 v7 M347.35,357.7 v-7 M347.35,7.1 v7 M444.15,357.7 v-7 M444.15,7.1 v7 M540.95,357.7 v-7 M540.95,7.1 v7 M637.75,357.7 v-7 M637.75,7.1 v7 M56.95,65.53 h7 M734.55,65.53 h-7 M56.95,123.97 h7 M734.55,123.97 h-7 M56.95,182.4 h7 M734.55,182.4 h-7 M56.95,240.83 h7 M734.55,240.83 h-7 M56.95,299.27 h7 M734.55,299.27 h-7" stroke="#262626" stroke-width="1" fill="none"/>
<rect x="56.95" y="7.1" width="677.5999999999999" height="350.59999999999997" fill="none" stroke="#262626" stroke-width="1.25"/>
<path d="M56.95,182.4 H734.55 M153.75,7.1 V357.7" stroke="#8c8c8c" stroke-width="1.8" fill="none"/>
<g fill="none" stroke="#000" stroke-linejoin="round">
<path d="M57.0,180.6 L57.5,180.6 L58.0,180.6 L58.5,180.6 L59.0,180.5 L59.5,180.5 L60.0,180.5 L60.5,180.5 L61.0,180.5 L61.5,180.5 L62.0,180.5 L62.5,180.4 L63.0,180.4 L63.5,180.4 L64.0,180.4 L64.5,180.4 L65.0,180.4 L65.5,180.4 L66.0,180.4 L66.5,180.4 L67.0,180.4 L67.5,180.4 L68.0,180.4 L68.5,180.4 L69.0,180.4 L69.5,180.4 L70.0,180.4 L70.5,180.4 L71.0,180.4 L71.5,180.4 L72.0,180.4 L72.5,180.4 L73.0,180.4 L73.5,180.4 L74.0,180.4 L74.5,180.4 L75.0,180.4 L75.5,180.4 L76.0,180.4 L76.5,180.4 L77.0,180.4 L77.5,180.4 L78.0,180.4 L78.5,180.4 L79.0,180.4 L79.5,180.4 L80.0,180.5 L80.5,180.5 L81.0,180.5 L81.5,180.5 L82.0,180.5 L82.5,180.5 L83.0,180.5 L83.5,180.5 L84.0,180.5 L84.5,180.6 L85.0,180.6 L85.5,180.6 L86.0,180.6 L86.5,180.6 L87.0,180.6 L87.5,180.7 L88.0,180.7 L88.5,180.7 L89.0,180.7 L89.5,180.7 L90.0,180.8 L90.5,180.8 L91.0,180.8 L91.5,180.8 L92.0,180.9 L92.5,180.9 L93.0,180.9 L93.5,181.0 L94.0,181.0 L94.5,181.0 L95.0,181.1 L95.5,181.1 L96.0,181.2 L96.5,181.2 L97.0,181.2 L97.5,181.3 L98.0,181.3 L98.5,181.4 L99.0,181.4 L99.5,181.4 L100.0,181.5 L100.5,181.5 L101.0,181.6 L101.5,181.6 L102.0,181.7 L102.5,181.7 L103.0,181.8 L103.5,181.8 L104.0,181.9 L104.5,181.9 L105.0,182.0 L105.5,182.0 L106.0,182.1 L106.5,182.2 L107.0,182.2 L107.5,182.3 L108.0,182.4 L108.5,182.5 L109.0,182.6 L109.5,182.7 L110.0,182.8 L110.5,182.9 L111.0,183.0 L111.5,183.1 L112.0,183.2 L112.5,183.3 L113.0,183.3 L113.5,183.4 L114.0,183.5 L114.5,183.5 L115.0,183.6 L115.5,183.6 L116.0,183.7 L116.5,183.7 L117.0,183.7 L117.5,183.7 L118.0,183.7 L118.5,183.6 L119.0,183.6 L119.5,183.6 L120.0,183.5 L120.5,183.5 L121.0,183.5 L121.5,183.4 L122.0,183.4 L122.5,183.3 L123.0,183.2 L123.5,183.1 L124.0,183.0 L124.5,182.9 L125.0,182.8 L125.5,182.7 L126.0,182.5 L126.5,182.3 L127.0,182.1 L127.5,181.9 L128.0,181.6 L128.5,181.3 L129.0,181.0 L129.5,180.6 L130.0,180.1 L130.5,179.6 L131.0,179.1 L131.5,178.5 L132.0,178.0 L132.5,177.4 L133.0,176.8 L133.5,176.3 L134.0,175.7 L134.5,175.1 L135.0,174.6 L135.5,174.0 L136.0,173.4 L136.5,172.8 L137.0,172.3 L137.5,171.7 L138.0,171.1 L138.5,170.6 L139.0,170.2 L139.5,169.9 L140.0,169.7 L140.5,169.6 L141.0,169.6 L141.5,169.8 L142.0,170.1 L142.5,170.6 L143.0,171.1 L143.5,171.8 L144.0,172.5 L144.5,173.2 L145.0,174.1 L145.5,175.1 L146.0,176.2 L146.5,177.5 L147.0,178.7 L147.5,180.1 L148.0,181.4 L148.5,182.8 L149.0,184.3 L149.5,185.8 L150.0,187.3 L150.5,188.9 L151.0,190.4 L151.5,191.9 L152.0,193.4 L152.5,194.8 L153.0,196.3 L153.5,197.7 L154.0,199.2 L154.5,200.6 L155.0,202.0 L155.5,203.4 L156.0,204.8 L156.5,206.2 L157.0,207.6 L157.5,208.9 L158.0,210.3 L158.5,211.6 L159.0,213.0 L159.5,214.3 L160.0,215.6 L160.5,216.9 L161.0,218.2 L161.5,219.4 L162.0,220.6 L162.5,221.8 L163.0,223.0 L163.5,224.1 L164.0,225.2 L164.5,226.1 L165.0,227.0 L165.5,227.8 L166.0,228.5 L166.5,229.1 L167.0,229.5 L167.5,229.6 L168.0,229.5 L168.5,229.2 L169.0,228.7 L169.5,228.2 L170.0,227.6 L170.5,227.0 L171.0,226.4 L171.5,225.9 L172.0,225.1 L172.5,224.0 L173.0,222.6 L173.5,221.2 L174.0,219.8 L174.5,218.3 L175.0,216.9 L175.5,215.4 L176.0,213.9 L176.5,212.4 L177.0,210.9 L177.5,209.4 L178.0,208.0 L178.5,206.5 L179.0,205.0 L179.5,203.5 L180.0,202.1 L180.5,200.6 L181.0,199.1 L181.5,197.7 L182.0,196.2 L182.5,194.7 L183.0,193.3 L183.5,191.8 L184.0,190.3 L184.5,188.7 L185.0,187.2 L185.5,185.6 L186.0,183.8 L186.5,181.2 L187.0,178.0 L187.5,174.8 L188.0,172.0 L188.5,169.5 L189.0,167.1 L189.5,164.7 L190.0,162.3 L190.5,160.0 L191.0,157.7 L191.5,155.5 L192.0,153.3 L192.5,151.1 L193.0,149.0 L193.5,147.0 L194.0,145.1 L194.5,143.3 L195.0,141.6 L195.5,140.0 L196.0,138.4 L196.5,137.0 L197.0,135.7 L197.5,134.6 L198.0,133.5 L198.5,132.6 L199.0,131.8 L199.5,131.2 L200.0,130.8 L200.5,130.5 L201.0,130.3 L201.5,130.3 L202.0,130.4 L202.5,130.6 L203.0,130.9 L203.5,131.4 L204.0,132.0 L204.5,132.7 L205.0,133.4 L205.5,134.2 L206.0,135.0 L206.5,136.0 L207.0,137.0 L207.5,138.1 L208.0,139.2 L208.5,140.4 L209.0,141.5 L209.5,142.7 L210.0,144.0 L210.5,145.3 L211.0,146.6 L211.5,147.9 L212.0,149.2 L212.5,150.6 L213.0,152.0 L213.5,153.4 L214.0,154.9 L214.5,156.4 L215.0,158.0 L215.5,159.5 L216.0,161.0 L216.5,162.5 L217.0,164.0 L217.5,165.5 L218.0,166.9 L218.5,168.3 L219.0,169.7 L219.5,171.0 L220.0,172.4 L220.5,173.7 L221.0,175.0 L221.5,176.2 L222.0,177.1 L222.5,178.0 L223.0,178.8 L223.5,179.7 L224.0,180.7 L224.5,182.0 L225.0,183.4 L225.5,184.9 L226.0,186.3 L226.5,187.7 L227.0,189.1 L227.5,190.6 L228.0,192.0 L228.5,193.4 L229.0,194.9 L229.5,196.3 L230.0,197.7 L230.5,199.1 L231.0,200.6 L231.5,202.0 L232.0,203.4 L232.5,204.7 L233.0,206.0 L233.5,207.2 L234.0,208.3 L234.5,209.4 L235.0,210.5 L235.5,211.5 L236.0,212.4 L236.5,213.3 L237.0,214.0 L237.5,214.7 L238.0,215.4 L238.5,216.0 L239.0,216.5 L239.5,217.0 L240.0,217.5 L240.5,218.0 L241.0,218.4 L241.5,218.8 L242.0,219.2 L242.5,219.5 L243.0,219.8 L243.5,220.0 L244.0,220.2 L244.5,220.4 L245.0,220.5 L245.5,220.6 L246.0,220.6 L246.5,220.6 L247.0,220.6 L247.5,220.6 L248.0,220.5 L248.5,220.5 L249.0,220.3 L249.5,220.2 L250.0,220.0 L250.5,219.8 L251.0,219.6 L251.5,219.3 L252.0,219.0 L252.5,218.7 L253.0,218.3 L253.5,217.9 L254.0,217.5 L254.5,217.1 L255.0,216.7 L255.5,216.3 L256.0,215.9 L256.5,215.6 L257.0,215.2 L257.5,214.8 L258.0,214.5 L258.5,214.2 L259.0,213.8 L259.5,213.5 L260.0,213.2 L260.5,212.8 L261.0,212.5 L261.5,212.2 L262.0,211.9 L262.5,211.6 L263.0,211.4 L263.5,211.2 L264.0,211.0 L264.5,210.8 L265.0,210.7 L265.5,210.6 L266.0,210.5 L266.5,210.3 L267.0,210.2 L267.5,210.1 L268.0,210.0 L268.5,209.9 L269.0,209.8 L269.5,209.6 L270.0,209.5 L270.5,209.3 L271.0,209.2 L271.5,209.0 L272.0,208.8 L272.5,208.7 L273.0,208.5 L273.5,208.4 L274.0,208.2 L274.5,208.1 L275.0,208.0 L275.5,207.9 L276.0,207.9 L276.5,207.9 L277.0,207.9 L277.5,208.0 L278.0,208.1 L278.5,208.2 L279.0,208.3 L279.5,208.4 L280.0,208.5 L280.5,208.6 L281.0,208.7 L281.5,208.8 L282.0,209.0 L282.5,209.1 L283.0,209.2 L283.5,209.4 L284.0,209.5 L284.5,209.7 L285.0,209.9 L285.5,210.1 L286.0,210.3 L286.5,210.5 L287.0,210.7 L287.5,210.9 L288.0,211.1 L288.5,211.3 L289.0,211.6 L289.5,211.8 L290.0,212.0 L290.5,212.3 L291.0,212.5 L291.5,212.8 L292.0,213.0 L292.5,213.2 L293.0,213.5 L293.5,213.7 L294.0,214.0 L294.5,214.3 L295.0,214.5 L295.5,214.8 L296.0,215.0 L296.5,215.3 L297.0,215.6 L297.5,215.9 L298.0,216.2 L298.5,216.5 L299.0,216.9 L299.5,217.2 L300.0,217.6 L300.5,217.9 L301.0,218.3 L301.5,218.7 L302.0,219.0 L302.5,219.4 L303.0,219.8 L303.5,220.1 L304.0,220.5 L304.5,220.9 L305.0,221.3 L305.5,221.7 L306.0,222.0 L306.5,222.4 L307.0,222.8 L307.5,223.1 L308.0,223.5 L308.5,223.9 L309.0,224.2 L309.5,224.6 L310.0,225.0 L310.5,225.3 L311.0,225.7 L311.5,226.0 L312.0,226.4 L312.5,226.8 L313.0,227.1 L313.5,227.5 L314.0,227.9 L314.5,228.2 L315.0,228.6 L315.5,228.9 L316.0,229.3 L316.5,229.6 L317.0,230.0 L317.5,230.4 L318.0,230.7 L318.5,231.1 L319.0,231.4 L319.5,231.8 L320.0,232.1 L320.5,232.4 L321.0,232.8 L321.5,233.1 L322.0,233.4 L322.5,233.7 L323.0,234.1 L323.5,234.4 L324.0,234.7 L324.5,235.0 L325.0,235.3 L325.5,235.6 L326.0,235.9 L326.5,236.2 L327.0,236.5 L327.5,236.8 L328.0,237.1 L328.5,237.4 L329.0,237.7 L329.5,238.0 L330.0,238.3 L330.5,238.6 L331.0,238.9 L331.5,239.2 L332.0,239.4 L332.5,239.7 L333.0,239.9 L333.5,240.1 L334.0,240.3 L334.5,240.5 L335.0,240.6 L335.5,240.8 L336.0,240.9 L336.5,241.0 L337.0,241.1 L337.5,241.2 L338.0,241.2 L338.5,241.2 L339.0,241.2 L339.5,241.2 L340.0,241.2 L340.5,241.1 L341.0,241.0 L341.5,240.8 L342.0,240.5 L342.5,240.2 L343.0,239.8 L343.5,239.4 L344.0,239.0 L344.5,238.5 L345.0,238.0 L345.5,237.5 L346.0,237.0 L346.5,236.4 L347.0,235.9 L347.5,235.3 L348.0,234.8 L348.5,234.3 L349.0,233.8 L349.5,233.3 L350.0,232.8 L350.5,232.3 L351.0,231.8 L351.5,231.3 L352.0,230.8 L352.5,230.3 L353.0,229.8 L353.5,229.4 L354.0,228.9 L354.5,228.4 L355.0,227.9 L355.5,227.4 L356.0,226.9 L356.5,226.4 L357.0,225.9 L357.5,225.4 L358.0,224.9 L358.5,224.4 L359.0,223.9 L359.5,223.4 L360.0,222.9 L360.5,222.4 L361.0,221.9 L361.5,221.4 L362.0,220.9 L362.5,220.4 L363.0,219.9 L363.5,219.4 L364.0,219.0 L364.5,218.5 L365.0,218.0 L365.5,217.5 L366.0,217.0 L366.5,216.5 L367.0,216.0 L367.5,215.5 L368.0,215.0 L368.5,214.5 L369.0,214.0 L369.5,213.5 L370.0,213.0 L370.5,212.6 L371.0,212.2 L371.5,211.7 L372.0,211.3 L372.5,210.9 L373.0,210.5 L373.5,210.2 L374.0,209.8 L374.5,209.4 L375.0,209.1 L375.5,208.7 L376.0,208.4 L376.5,208.0 L377.0,207.7 L377.5,207.4 L378.0,207.0 L378.5,206.7 L379.0,206.3 L379.5,206.0 L380.0,205.6 L380.5,205.2 L381.0,204.9 L381.5,204.5 L382.0,204.1 L382.5,203.8 L383.0,203.4 L383.5,203.1 L384.0,202.7 L384.5,202.4 L385.0,202.0 L385.5,201.6 L386.0,201.3 L386.5,201.0 L387.0,200.6 L387.5,200.3 L388.0,199.9 L388.5,199.6 L389.0,199.3 L389.5,199.0 L390.0,198.7 L390.5,198.4 L391.0,198.1 L391.5,197.8 L392.0,197.5 L392.5,197.2 L393.0,196.9 L393.5,196.7 L394.0,196.4 L394.5,196.1 L395.0,195.9 L395.5,195.6 L396.0,195.3 L396.5,195.1 L397.0,194.8 L397.5,194.6 L398.0,194.3 L398.5,194.1 L399.0,193.8 L399.5,193.6 L400.0,193.3 L400.5,193.1 L401.0,192.8 L401.5,192.5 L402.0,192.2 L402.5,192.0 L403.0,191.7 L403.5,191.4 L404.0,191.1 L404.5,190.8 L405.0,190.5 L405.5,190.3 L406.0,190.0 L406.5,189.7 L407.0,189.4 L407.5,189.1 L408.0,188.8 L408.5,188.5 L409.0,188.2 L409.5,187.9 L410.0,187.6 L410.5,187.3 L411.0,187.0 L411.5,186.7 L412.0,186.4 L412.5,186.0 L413.0,185.7 L413.5,185.3 L414.0,184.9 L414.5,184.5 L415.0,184.1 L415.5,183.6 L416.0,183.2 L416.5,182.7 L417.0,182.2 L417.5,181.7 L418.0,181.2 L418.5,180.7 L419.0,180.2 L419.5,179.7 L420.0,179.2 L420.5,178.7 L421.0,178.2 L421.5,177.7 L422.0,177.2 L422.5,176.7 L423.0,176.2 L423.5,175.7 L424.0,175.1 L424.5,174.6 L425.0,174.1 L425.5,173.6 L426.0,173.1 L426.5,172.7 L427.0,172.2 L427.5,171.7 L428.0,171.2 L428.5,170.7 L429.0,170.3 L429.5,169.8 L430.0,169.4 L430.5,168.9 L431.0,168.4 L431.5,168.0 L432.0,167.5 L432.5,167.1 L433.0,166.6 L433.5,166.2 L434.0,165.8 L434.5,165.3 L435.0,164.9 L435.5,164.4 L436.0,164.0 L436.5,163.6 L437.0,163.1 L437.5,162.7 L438.0,162.3 L438.5,161.8 L439.0,161.4 L439.5,161.0 L440.0,160.6 L440.5,160.2 L441.0,159.8 L441.5,159.4 L442.0,159.0 L442.5,158.6 L443.0,158.2 L443.5,157.9 L444.0,157.5 L444.5,157.1 L445.0,156.8 L445.5,156.5 L446.0,156.1 L446.5,155.8 L447.0,155.6 L447.5,155.3 L448.0,155.0 L448.5,154.8 L449.0,154.6 L449.5,154.4 L450.0,154.2 L450.5,154.0 L451.0,153.8 L451.5,153.6 L452.0,153.5 L452.5,153.4 L453.0,153.2 L453.5,153.1 L454.0,153.0 L454.5,152.9 L455.0,152.8 L455.5,152.7 L456.0,152.6 L456.5,152.5 L457.0,152.5 L457.5,152.4 L458.0,152.4 L458.5,152.3 L459.0,152.3 L459.5,152.3 L460.0,152.3 L460.5,152.3 L461.0,152.3 L461.5,152.3 L462.0,152.3 L462.5,152.4 L463.0,152.4 L463.5,152.4 L464.0,152.4 L464.5,152.4 L465.0,152.5 L465.5,152.5 L466.0,152.5 L466.5,152.5 L467.0,152.6 L467.5,152.6 L468.0,152.6 L468.5,152.7 L469.0,152.7 L469.5,152.8 L470.0,152.8 L470.5,152.8 L471.0,152.9 L471.5,153.0 L472.0,153.0 L472.5,153.1 L473.0,153.2 L473.5,153.2 L474.0,153.3 L474.5,153.4 L475.0,153.5 L475.5,153.6 L476.0,153.7 L476.5,153.7 L477.0,153.8 L477.5,153.9 L478.0,154.0 L478.5,154.1 L479.0,154.1 L479.5,154.2 L480.0,154.3 L480.5,154.3 L481.0,154.4 L481.5,154.4 L482.0,154.4 L482.5,154.5 L483.0,154.5 L483.5,154.5 L484.0,154.5 L484.5,154.5 L485.0,154.5 L485.5,154.5 L486.0,154.5 L486.5,154.4 L487.0,154.4 L487.5,154.4 L488.0,154.4 L488.5,154.3 L489.0,154.3 L489.5,154.3 L490.0,154.2 L490.5,154.2 L491.0,154.1 L491.5,154.1 L492.0,154.1 L492.5,154.0 L493.0,154.0 L493.5,153.9 L494.0,153.9 L494.5,153.8 L495.0,153.8 L495.5,153.7 L496.0,153.7 L496.5,153.6 L497.0,153.6 L497.5,153.5 L498.0,153.5 L498.5,153.4 L499.0,153.4 L499.5,153.4 L500.0,153.3 L500.5,153.3 L501.0,153.2 L501.5,153.2 L502.0,153.1 L502.5,153.0 L503.0,153.0 L503.5,152.9 L504.0,152.9 L504.5,152.8 L505.0,152.7 L505.5,152.7 L506.0,152.6 L506.5,152.6 L507.0,152.5 L507.5,152.4 L508.0,152.4 L508.5,152.3 L509.0,152.3 L509.5,152.2 L510.0,152.2 L510.5,152.1 L511.0,152.1 L511.5,152.0 L512.0,152.0 L512.5,151.9 L513.0,151.9 L513.5,151.8 L514.0,151.8 L514.5,151.8 L515.0,151.7 L515.5,151.7 L516.0,151.7 L516.5,151.7 L517.0,151.7 L517.5,151.7 L518.0,151.7 L518.5,151.8 L519.0,151.8 L519.5,151.8 L520.0,151.9 L520.5,151.9 L521.0,151.9 L521.5,152.0 L522.0,152.1 L522.5,152.1 L523.0,152.2 L523.5,152.3 L524.0,152.3 L524.5,152.4 L525.0,152.5 L525.5,152.6 L526.0,152.7 L526.5,152.8 L527.0,152.9 L527.5,153.0 L528.0,153.1 L528.5,153.2 L529.0,153.3 L529.5,153.4 L530.0,153.5 L530.5,153.6 L531.0,153.7 L531.5,153.8 L532.0,154.0 L532.5,154.1 L533.0,154.2 L533.5,154.3 L534.0,154.4 L534.5,154.6 L535.0,154.7 L535.5,154.8 L536.0,154.9 L536.5,155.0 L537.0,155.2 L537.5,155.3 L538.0,155.4 L538.5,155.6 L539.0,155.7 L539.5,155.8 L540.0,156.0 L540.5,156.1 L541.0,156.2 L541.5,156.4 L542.0,156.5 L542.5,156.6 L543.0,156.8 L543.5,156.9 L544.0,157.1 L544.5,157.2 L545.0,157.4 L545.5,157.5 L546.0,157.7 L546.5,157.8 L547.0,158.0 L547.5,158.1 L548.0,158.3 L548.5,158.4 L549.0,158.6 L549.5,158.7 L550.0,158.9 L550.5,159.1 L551.0,159.2 L551.5,159.4 L552.0,159.5 L552.5,159.7 L553.0,159.8 L553.5,160.0 L554.0,160.1 L554.5,160.3 L555.0,160.5 L555.5,160.6 L556.0,160.8 L556.5,160.9 L557.0,161.1 L557.5,161.2 L558.0,161.4 L558.5,161.5 L559.0,161.7 L559.5,161.8 L560.0,161.9 L560.5,162.1 L561.0,162.2 L561.5,162.4 L562.0,162.5 L562.5,162.7 L563.0,162.8 L563.5,162.9 L564.0,163.1 L564.5,163.2 L565.0,163.4 L565.5,163.5 L566.0,163.6 L566.5,163.7 L567.0,163.9 L567.5,164.0 L568.0,164.1 L568.5,164.2 L569.0,164.4 L569.5,164.5 L570.0,164.6 L570.5,164.7 L571.0,164.8 L571.5,164.9 L572.0,165.0 L572.5,165.1 L573.0,165.2 L573.5,165.3 L574.0,165.4 L574.5,165.4 L575.0,165.5 L575.5,165.6 L576.0,165.6 L576.5,165.7 L577.0,165.7 L577.5,165.8 L578.0,165.8 L578.5,165.9 L579.0,165.9 L579.5,165.9 L580.0,165.9 L580.5,166.0 L581.0,166.0 L581.5,166.0 L582.0,166.0 L582.5,166.1 L583.0,166.1 L583.5,166.1 L584.0,166.1 L584.5,166.2 L585.0,166.2 L585.5,166.2 L586.0,166.2 L586.5,166.3 L587.0,166.3 L587.5,166.4 L588.0,166.4 L588.5,166.4 L589.0,166.5 L589.5,166.5 L590.0,166.6 L590.5,166.6 L591.0,166.7 L591.5,166.8 L592.0,166.8 L592.5,166.9 L593.0,166.9 L593.5,167.0 L594.0,167.0 L594.5,167.1 L595.0,167.1 L595.5,167.2 L596.0,167.2 L596.5,167.3 L597.0,167.4 L597.5,167.4 L598.0,167.5 L598.5,167.5 L599.0,167.6 L599.5,167.7 L600.0,167.8 L600.5,167.8 L601.0,167.9 L601.5,168.0 L602.0,168.1 L602.5,168.1 L603.0,168.2 L603.5,168.3 L604.0,168.4 L604.5,168.5 L605.0,168.6 L605.5,168.7 L606.0,168.8 L606.5,168.9 L607.0,169.0 L607.5,169.1 L608.0,169.2 L608.5,169.4 L609.0,169.5 L609.5,169.6 L610.0,169.7 L610.5,169.8 L611.0,169.9 L611.5,170.0 L612.0,170.2 L612.5,170.3 L613.0,170.4 L613.5,170.5 L614.0,170.6 L614.5,170.8 L615.0,170.9 L615.5,171.0 L616.0,171.1 L616.5,171.3 L617.0,171.4 L617.5,171.5 L618.0,171.6 L618.5,171.8 L619.0,171.9 L619.5,172.0 L620.0,172.2 L620.5,172.3 L621.0,172.4 L621.5,172.5 L622.0,172.7 L622.5,172.8 L623.0,172.9 L623.5,173.1 L624.0,173.2 L624.5,173.4 L625.0,173.5 L625.5,173.7 L626.0,173.8 L626.5,174.0 L627.0,174.1 L627.5,174.3 L628.0,174.4 L628.5,174.6 L629.0,174.7 L629.5,174.9 L630.0,175.0 L630.5,175.2 L631.0,175.3 L631.5,175.5 L632.0,175.6 L632.5,175.8 L633.0,175.9 L633.5,176.1 L634.0,176.2 L634.5,176.4 L635.0,176.5 L635.5,176.7 L636.0,176.8 L636.5,177.0 L637.0,177.1 L637.5,177.3 L638.0,177.5 L638.5,177.6 L639.0,177.8 L639.5,177.9 L640.0,178.1 L640.5,178.2 L641.0,178.4 L641.5,178.5 L642.0,178.7 L642.5,178.8 L643.0,179.0 L643.5,179.1 L644.0,179.3 L644.5,179.4 L645.0,179.6 L645.5,179.7 L646.0,179.9 L646.5,180.1 L647.0,180.2 L647.5,180.4 L648.0,180.5 L648.5,180.7 L649.0,180.8 L649.5,181.0 L650.0,181.1 L650.5,181.3 L651.0,181.4 L651.5,181.6 L652.0,181.7 L652.5,181.9 L653.0,182.0 L653.5,182.2 L654.0,182.3 L654.5,182.5 L655.0,182.6 L655.5,182.8 L656.0,182.9 L656.5,183.1 L657.0,183.2 L657.5,183.3 L658.0,183.4 L658.5,183.5 L659.0,183.7 L659.5,183.8 L660.0,183.9 L660.5,184.0 L661.0,184.1 L661.5,184.2 L662.0,184.2 L662.5,184.3 L663.0,184.4 L663.5,184.5 L664.0,184.6 L664.5,184.7 L665.0,184.8 L665.5,184.9 L666.0,184.9 L666.5,185.0 L667.0,185.1 L667.5,185.2 L668.0,185.3 L668.5,185.4 L669.0,185.4 L669.5,185.5 L670.0,185.6 L670.5,185.7 L671.0,185.8 L671.5,185.9 L672.0,186.0 L672.5,186.1 L673.0,186.1 L673.5,186.2 L674.0,186.3 L674.5,186.4 L675.0,186.5 L675.5,186.5 L676.0,186.6 L676.5,186.7 L677.0,186.8 L677.5,186.9 L678.0,186.9 L678.5,187.0 L679.0,187.1 L679.5,187.2 L680.0,187.2 L680.5,187.3 L681.0,187.4 L681.5,187.4 L682.0,187.5 L682.5,187.6 L683.0,187.7 L683.5,187.7 L684.0,187.8 L684.5,187.9 L685.0,187.9 L685.5,188.0 L686.0,188.0 L686.5,188.1 L687.0,188.2 L687.5,188.2 L688.0,188.3 L688.5,188.3 L689.0,188.4 L689.5,188.4 L690.0,188.5 L690.5,188.5 L691.0,188.6 L691.5,188.6 L692.0,188.6 L692.5,188.7 L693.0,188.7 L693.5,188.7 L694.0,188.8 L694.5,188.8 L695.0,188.8 L695.5,188.8 L696.0,188.8 L696.5,188.8 L697.0,188.8 L697.5,188.8 L698.0,188.8 L698.5,188.8 L699.0,188.8 L699.5,188.8 L700.0,188.8 L700.5,188.7 L701.0,188.7 L701.5,188.7 L702.0,188.7 L702.5,188.7 L703.0,188.6 L703.5,188.6 L704.0,188.6 L704.5,188.5 L705.0,188.5 L705.5,188.5 L706.0,188.4 L706.5,188.4 L707.0,188.4 L707.5,188.3 L708.0,188.3 L708.5,188.3 L709.0,188.2 L709.5,188.2 L710.0,188.1 L710.5,188.1 L711.0,188.0 L711.5,188.0 L712.0,188.0 L712.5,187.9 L713.0,187.9 L713.5,187.8 L714.0,187.8 L714.5,187.7 L715.0,187.7 L715.5,187.6 L716.0,187.6 L716.5,187.5 L717.0,187.5 L717.5,187.4 L718.0,187.4 L718.5,187.3 L719.0,187.2 L719.5,187.2 L720.0,187.1 L720.5,187.1 L721.0,187.0 L721.5,187.0 L722.0,186.9 L722.5,186.9 L723.0,186.8 L723.5,186.8 L724.0,186.7 L724.5,186.7 L725.0,186.6 L725.5,186.6 L726.0,186.5 L726.5,186.5 L727.0,186.4 L727.5,186.4 L728.0,186.3 L728.5,186.3 L729.0,186.2 L729.5,186.2 L730.0,186.2 L730.5,186.1 L731.0,186.1 L731.5,186.0 L732.0,186.0 L732.5,185.9 L733.0,185.9 L733.5,185.9 L734.0,185.8 L734.5,185.8 L735.0,185.7 L735.5,185.7" stroke-width="1.3"/>
<path d="M136.2,183.1 L136.2,183.0 L136.8,182.3 L137.2,181.6 L137.8,180.9 L138.2,180.2 L138.8,179.4 L139.2,178.7 L139.8,177.9 L140.2,177.1 L140.8,176.4 L141.2,175.6 L141.8,174.8 L142.2,174.0 L142.8,173.3 L143.2,172.5 L143.8,171.7 L144.1,171.1 M146.4,168.6 L146.5,168.5 L147.0,168.3 L147.5,168.2 L148.0,168.2 L148.5,168.5 L149.0,169.0 L149.5,169.7 L150.0,170.7 L150.5,172.0 L150.5,172.1 M110.3,187.3 L110.5,187.3 L111.0,187.4 L111.5,187.5 L112.0,187.6 L112.5,187.7 L113.0,187.8 L113.5,187.9 L114.0,188.0 L114.5,188.1 L115.0,188.2 L115.5,188.3 L116.0,188.4 L116.5,188.5 L117.0,188.6 L117.5,188.7 L118.0,188.8 L118.5,188.9 L119.0,189.0 L119.5,189.0 L120.0,189.0 L120.5,189.0 L121.0,189.0 L121.5,189.0 L122.0,189.0 L122.5,188.9 L123.0,188.9 L123.5,188.8 L124.0,188.8 L124.4,188.7 M127.9,188.1 L128.0,188.1 L128.5,188.0 L129.0,187.8 L129.5,187.6 L130.0,187.4 L130.5,187.2 L131.0,187.0 L131.5,186.8 L132.0,186.5 L132.5,186.2 L133.0,185.9 L133.5,185.6 L133.7,185.5 M82.9,183.4 L83.0,183.4 L83.5,183.4 L84.0,183.4 L84.5,183.4 L85.0,183.5 L85.5,183.5 L86.0,183.5 L86.5,183.6 L87.0,183.6 L87.5,183.6 L88.0,183.7 L88.5,183.7 L89.0,183.8 L89.5,183.8 L90.0,183.8 L90.5,183.9 L91.0,183.9 L91.5,184.0 L92.0,184.0 L92.5,184.1 L93.0,184.1 L93.5,184.2 L94.0,184.2 L94.5,184.3 L95.0,184.4 L95.5,184.4 L96.0,184.5 L96.5,184.6 L97.0,184.7 L97.2,184.7 M100.6,185.3 L100.8,185.3 L101.2,185.4 L101.8,185.5 L102.2,185.6 L102.8,185.7 L103.2,185.8 L103.8,185.9 L104.2,186.0 L104.8,186.1 L105.2,186.2 L105.8,186.3 L106.2,186.4 L106.8,186.5 L106.9,186.6 M57.0,182.8 L57.2,182.8 L57.8,182.8 L58.2,182.8 L58.8,182.8 L59.2,182.8 L59.8,182.7 L60.2,182.7 L60.8,182.7 L61.2,182.7 L61.8,182.7 L62.2,182.7 L62.8,182.7 L63.2,182.7 L63.8,182.7 L64.2,182.7 L64.8,182.7 L65.2,182.7 L65.8,182.7 L66.2,182.7 L66.8,182.7 L67.2,182.8 L67.8,182.8 L68.2,182.8 L68.8,182.8 L69.2,182.8 L69.6,182.8 M73.1,182.9 L73.2,182.9 L73.8,182.9 L74.2,182.9 L74.8,183.0 L75.2,183.0 L75.8,183.0 L76.2,183.0 L76.8,183.0 L77.2,183.1 L77.8,183.1 L78.2,183.1 L78.8,183.1 L79.2,183.2 L79.5,183.2 M151.7,175.4 L151.8,175.5 L152.2,177.0 L152.8,178.5 L153.2,179.9 L153.8,181.4 L154.2,182.9 L154.8,184.4 L155.2,186.0 L155.8,187.6 L156.1,189.0 M157.1,192.8 L157.2,193.3 L157.8,195.1 L158.2,196.8 L158.8,198.5 L158.9,199.0 M160.0,202.8 L160.2,203.5 L160.8,205.2 L161.2,206.8 L161.8,208.5 L162.2,210.2 L162.8,211.8 L163.2,213.5 L163.8,215.2 L164.1,216.5 M165.4,220.3 L165.5,220.7 L166.0,222.2 L166.5,223.6 L167.0,225.0 L167.5,226.3 L167.5,226.3 M169.6,229.6 L169.8,229.8 L170.2,230.2 L170.8,230.3 L171.2,230.1 L171.8,229.5 L172.2,228.4 L172.8,227.2 L173.2,225.9 L173.8,224.4 L174.2,222.8 L174.8,221.1 L175.2,219.4 L175.5,218.5 M176.6,214.7 L176.8,214.2 L177.2,212.5 L177.8,210.8 L178.2,209.2 L178.4,208.5 M179.6,204.7 L179.8,204.3 L180.2,202.7 L180.8,201.1 L181.2,199.4 L181.8,197.8 L182.2,196.2 L182.8,194.6 L183.2,192.9 L183.8,191.3 L183.8,191.1 M185.0,187.3 L185.2,186.5 L185.8,184.8 L186.2,183.1 L186.8,181.2 L186.8,181.1 M187.7,177.3 L187.8,177.1 L188.2,175.0 L188.8,173.0 L189.2,171.0 L189.8,169.1 L190.2,167.2 L190.8,165.4 L191.2,163.5 L191.3,163.4 M192.3,159.6 L192.5,159.0 L193.0,157.3 L193.5,155.7 L194.0,154.2 L194.3,153.5 M195.7,149.8 L195.8,149.6 L196.2,148.4 L196.8,147.3 L197.2,146.2 L197.8,145.3 L198.2,144.5 L198.8,143.8 L199.2,143.2 L199.8,142.8 L200.2,142.6 L200.8,142.4 L201.2,142.4 L201.8,142.5 L202.2,142.6 L202.8,142.7 L203.2,142.9 L203.8,143.1 L204.2,143.4 L204.8,143.7 L205.2,144.0 L205.4,144.1 M208.3,146.9 L208.5,147.1 L209.0,147.7 L209.5,148.4 L210.0,149.3 L210.5,150.5 L211.0,151.7 L211.3,152.5 M212.7,156.2 L212.8,156.4 L213.2,157.8 L213.8,159.3 L214.2,160.8 L214.8,162.2 L215.2,163.8 L215.8,165.2 L216.2,166.8 L216.8,168.2 L217.2,169.8 L217.3,169.8 M218.5,173.5 L218.8,174.2 L219.2,175.8 L219.8,177.2 L220.2,178.8 L220.5,179.6 M221.8,183.4 L222.0,184.0 L222.5,185.5 L223.0,187.0 L223.5,188.4 L224.0,189.8 L224.5,191.2 L225.0,192.6 L225.5,193.9 L226.0,195.3 L226.5,196.6 L226.6,196.9 M228.0,200.6 L228.0,200.7 L228.5,202.1 L229.0,203.4 L229.5,204.8 L230.0,206.1 L230.2,206.6 M231.6,210.3 L231.8,210.6 L232.2,211.8 L232.8,212.9 L233.2,214.0 L233.8,215.0 L234.2,216.0 L234.8,217.0 L235.2,217.9 L235.8,218.7 L236.2,219.5 L236.8,220.3 L237.2,221.0 L237.8,221.7 L238.2,222.3 L238.6,222.7 M241.5,225.5 L241.5,225.5 L242.0,225.8 L242.5,226.1 L243.0,226.3 L243.5,226.4 L244.0,226.6 L244.5,226.6 L245.0,226.6 L245.5,226.5 L246.0,226.4 L246.5,226.2 L247.0,226.1 L247.5,225.9 L247.5,225.9 M250.9,223.8 L251.0,223.7 L251.5,223.3 L252.0,222.9 L252.5,222.5 L253.0,222.1 L253.5,221.7 L254.0,221.4 L254.5,221.0 L255.0,220.7 L255.5,220.3 L256.0,220.0 L256.5,219.6 L257.0,219.3 L257.5,219.0 L258.0,218.6 L258.5,218.3 L259.0,218.0 L259.5,217.6 L260.0,217.3 L260.5,217.0 L261.0,216.7 L261.5,216.3 L262.0,216.0 L262.5,215.7 L262.6,215.6 M266.2,214.0 L266.2,214.0 L266.8,213.9 L267.2,213.8 L267.8,213.8 L268.2,213.7 L268.8,213.7 L269.2,213.6 L269.8,213.6 L270.2,213.6 L270.8,213.5 L271.2,213.5 L271.8,213.4 L272.2,213.4 L272.6,213.4 M276.5,212.8 L276.8,212.8 L277.2,212.7 L277.8,212.7 L278.2,212.6 L278.8,212.5 L279.2,212.5 L279.8,212.4 L280.2,212.3 L280.8,212.3 L281.2,212.2 L281.8,212.2 L282.2,212.1 L282.8,212.1 L283.2,212.1 L283.8,212.0 L284.2,212.0 L284.8,212.0 L285.2,212.0 L285.8,212.0 L286.2,212.1 L286.8,212.2 L287.2,212.3 L287.8,212.4 L288.2,212.6 L288.8,212.8 L289.2,212.9 L289.8,213.1 L290.2,213.3 L290.6,213.4 M294.3,214.9 L294.5,215.0 L295.0,215.2 L295.5,215.4 L296.0,215.6 L296.5,215.8 L297.0,216.0 L297.5,216.3 L298.0,216.6 L298.5,216.9 L299.0,217.2 L299.5,217.5 L299.9,217.8 M303.2,220.1 L303.2,220.1 L303.8,220.5 L304.2,220.8 L304.8,221.2 L305.2,221.6 L305.8,221.9 L306.2,222.3 L306.8,222.6 L307.2,223.0 L307.8,223.3 L308.2,223.7 L308.8,224.1 L309.2,224.4 L309.8,224.8 L310.2,225.1 L310.8,225.5 L311.2,225.9 L311.8,226.2 L312.2,226.6 L312.8,226.9 L313.2,227.3 L313.8,227.7 L314.2,228.0 L314.8,228.4 L314.8,228.4 M318.0,230.7 L318.2,230.9 L318.8,231.2 L319.2,231.6 L319.8,231.9 L320.2,232.3 L320.8,232.6 L321.2,232.9 L321.8,233.2 L322.2,233.5 L322.8,233.8 L323.2,234.1 L323.4,234.2 M326.9,236.2 L327.0,236.2 L327.5,236.5 L328.0,236.8 L328.5,237.1 L329.0,237.3 L329.5,237.6 L330.0,237.9 L330.5,238.2 L331.0,238.4 L331.5,238.7 L332.0,238.9 L332.5,239.2 L333.0,239.4 L333.5,239.6 L334.0,239.8 L334.5,240.0 L335.0,240.1 L335.5,240.3 L336.0,240.4 L336.5,240.5 L337.0,240.6 L337.5,240.7 L338.0,240.7 L338.5,240.7 L339.0,240.7 L339.5,240.7 L340.0,240.7 L340.2,240.6 M343.6,238.8 L343.8,238.7 L344.2,238.2 L344.8,237.8 L345.2,237.3 L345.8,236.7 L346.2,236.2 L346.8,235.6 L347.2,235.1 L347.8,234.6 L348.1,234.2 M350.9,231.4 L351.0,231.3 L351.5,230.8 L352.0,230.3 L352.5,229.8 L353.0,229.3 L353.5,228.9 L354.0,228.4 L354.5,227.9 L355.0,227.4 L355.5,226.9 L356.0,226.4 L356.5,225.9 L357.0,225.4 L357.5,224.9 L358.0,224.4 L358.5,223.9 L359.0,223.4 L359.5,222.9 L360.0,222.4 L360.5,221.9 L361.0,221.4 L361.1,221.3 M363.6,218.9 L363.8,218.7 L364.2,218.2 L364.8,217.7 L365.2,217.2 L365.8,216.7 L366.2,216.2 L366.8,215.7 L367.2,215.2 L367.8,214.7 L368.1,214.4 M370.6,212.0 L370.8,211.9 L371.2,211.4 L371.8,211.0 L372.2,210.6 L372.8,210.2 L373.2,209.8 L373.8,209.5 L374.2,209.1 L374.8,208.7 L375.2,208.4 L375.8,208.0 L376.2,207.7 L376.8,207.3 L377.2,207.0 L377.8,206.6 L378.2,206.3 L378.8,205.9 L379.2,205.6 L379.8,205.2 L380.2,204.8 L380.8,204.4 L381.2,204.1 L381.8,203.7 L382.1,203.4 M385.0,201.3 L385.2,201.1 L385.8,200.8 L386.2,200.4 L386.8,200.1 L387.2,199.7 L387.8,199.4 L388.2,199.1 L388.8,198.7 L389.2,198.4 L389.8,198.1 L390.2,197.8 L390.4,197.7 M393.5,195.9 L393.8,195.8 L394.2,195.6 L394.8,195.3 L395.2,195.0 L395.8,194.8 L396.2,194.5 L396.8,194.3 L397.2,194.0 L397.8,193.8 L398.2,193.6 L398.8,193.3 L399.2,193.1 L399.8,192.8 L400.2,192.6 L400.8,192.3 L401.2,192.0 L401.8,191.8 L402.2,191.5 L402.8,191.2 L403.2,190.9 L403.8,190.7 L404.2,190.4 L404.8,190.1 L405.2,189.8 L405.8,189.5 L406.2,189.3 M409.3,187.5 L409.5,187.4 L410.0,187.1 L410.5,186.8 L411.0,186.5 L411.5,186.2 L412.0,185.9 L412.5,185.5 L413.0,185.2 L413.5,184.8 L414.0,184.4 L414.5,184.0 L414.6,183.9 M417.3,181.4 L417.5,181.3 L418.0,180.8 L418.5,180.3 L419.0,179.9 L419.5,179.4 L420.0,179.0 L420.5,178.5 L421.0,178.1 L421.5,177.6 L422.0,177.2 L422.5,176.7 L423.0,176.3 L423.5,175.8 L424.0,175.3 L424.5,174.9 L425.0,174.4 L425.5,174.0 L426.0,173.5 L426.5,173.1 L427.0,172.6 L427.5,172.2 L427.9,171.8 M430.6,169.4 L430.8,169.3 L431.2,168.9 L431.8,168.5 L432.2,168.0 L432.8,167.6 L433.2,167.2 L433.8,166.8 L434.2,166.4 L434.8,165.9 L435.2,165.5 L435.5,165.3 M438.3,163.0 L438.5,162.8 L439.0,162.4 L439.5,162.0 L440.0,161.6 L440.5,161.2 L441.0,160.8 L441.5,160.4 L442.0,160.1 L442.5,159.7 L443.0,159.4 L443.5,159.1 L444.0,158.8 L444.5,158.5 L445.0,158.2 L445.5,158.0 L446.0,157.8 L446.5,157.6 L447.0,157.5 L447.5,157.3 L448.0,157.2 L448.5,157.1 L449.0,157.0 L449.5,156.9 L450.0,156.9 L450.5,156.8 L450.9,156.8 M454.5,156.5 L454.8,156.5 L455.2,156.5 L455.8,156.5 L456.2,156.5 L456.8,156.4 L457.2,156.4 L457.8,156.4 L458.2,156.4 L458.8,156.4 L459.2,156.4 L459.8,156.3 L460.2,156.3 L460.8,156.3 L460.9,156.3 M464.6,156.2 L464.8,156.2 L465.2,156.2 L465.8,156.2 L466.2,156.2 L466.8,156.2 L467.2,156.2 L467.8,156.2 L468.2,156.1 L468.8,156.1 L469.2,156.1 L469.8,156.1 L470.2,156.1 L470.8,156.1 L471.2,156.1 L471.8,156.1 L472.2,156.1 L472.8,156.1 L473.2,156.1 L473.8,156.1 L474.2,156.1 L474.8,156.1 L475.2,156.1 L475.8,156.0 L476.2,156.0 L476.8,156.0 L477.2,156.0 L477.8,156.0 L478.2,155.9 L478.8,155.8 L478.8,155.8 M482.0,155.2 L482.2,155.1 L482.8,155.0 L483.2,154.8 L483.8,154.7 L484.2,154.5 L484.8,154.4 L485.2,154.2 L485.8,154.0 L486.2,153.9 L486.8,153.7 L487.2,153.5 L487.8,153.4 L488.1,153.2 M491.3,152.3 L491.5,152.2 L492.0,152.1 L492.5,151.9 L493.0,151.8 L493.5,151.7 L494.0,151.6 L494.5,151.5 L495.0,151.5 L495.5,151.4 L496.0,151.3 L496.5,151.2 L497.0,151.2 L497.5,151.1 L498.0,151.0 L498.5,150.9 L499.0,150.9 L499.5,150.8 L500.0,150.7 L500.5,150.6 L501.0,150.6 L501.5,150.5 L502.0,150.4 L502.5,150.4 L503.0,150.3 L503.5,150.2 L504.0,150.1 L504.5,150.0 L505.0,150.0 L505.4,149.9 M508.8,149.3 L509.0,149.3 L509.5,149.2 L510.0,149.1 L510.5,149.0 L511.0,149.0 L511.5,148.9 L512.0,148.8 L512.5,148.7 L513.0,148.7 L513.5,148.6 L514.0,148.6 L514.5,148.5 L515.0,148.5 L515.2,148.5 M518.7,148.5 L518.8,148.5 L519.2,148.5 L519.8,148.6 L520.2,148.6 L520.8,148.7 L521.2,148.7 L521.8,148.8 L522.2,148.9 L522.8,149.0 L523.2,149.1 L523.8,149.2 L524.2,149.4 L524.8,149.5 L525.2,149.7 L525.8,149.8 L526.2,150.0 L526.8,150.2 L527.2,150.4 L527.8,150.6 L528.2,150.8 L528.8,151.0 L529.2,151.3 L529.8,151.5 L530.2,151.7 L530.8,151.9 L531.2,152.2 L531.8,152.4 L532.2,152.6 M535.4,154.0 L535.5,154.0 L536.0,154.2 L536.5,154.4 L537.0,154.5 L537.5,154.7 L538.0,154.8 L538.5,155.0 L539.0,155.1 L539.5,155.2 L540.0,155.4 L540.5,155.5 L541.0,155.6 L541.5,155.7 L541.6,155.7 M545.0,156.7 L545.0,156.7 L545.5,156.8 L546.0,157.0 L546.5,157.2 L547.0,157.3 L547.5,157.5 L548.0,157.7 L548.5,157.8 L549.0,158.0 L549.5,158.2 L550.0,158.4 L550.5,158.6 L551.0,158.8 L551.5,158.9 L552.0,159.1 L552.5,159.3 L553.0,159.5 L553.5,159.7 L554.0,159.9 L554.5,160.1 L555.0,160.2 L555.5,160.4 L556.0,160.6 L556.5,160.8 L557.0,161.0 L557.5,161.1 L558.0,161.3 L558.4,161.5 M561.8,162.5 L562.0,162.6 L562.5,162.7 L563.0,162.9 L563.5,163.0 L564.0,163.2 L564.5,163.3 L565.0,163.4 L565.5,163.6 L566.0,163.7 L566.5,163.8 L567.0,164.0 L567.5,164.1 L568.0,164.2 M571.4,164.9 L571.5,164.9 L572.0,165.0 L572.5,165.1 L573.0,165.2 L573.5,165.3 L574.0,165.4 L574.5,165.4 L575.0,165.5 L575.5,165.5 L576.0,165.6 L576.5,165.6 L577.0,165.7 L577.5,165.7 L578.0,165.7 L578.5,165.8 L579.0,165.8 L579.5,165.8 L580.0,165.8 L580.5,165.8 L581.0,165.8 L581.5,165.8 L582.0,165.8 L582.5,165.8 L583.0,165.8 L583.5,165.9 L584.0,165.9 L584.5,165.9 L585.0,165.9 L585.5,165.9 L585.6,165.9 M589.1,166.2 L589.2,166.2 L589.8,166.3 L590.2,166.3 L590.8,166.4 L591.2,166.5 L591.8,166.5 L592.2,166.6 L592.8,166.7 L593.2,166.7 L593.8,166.8 L594.2,166.8 L594.8,166.9 L595.2,167.0 L595.5,167.0 M598.9,167.5 L599.0,167.5 L599.5,167.6 L600.0,167.7 L600.5,167.8 L601.0,167.9 L601.5,167.9 L602.0,168.0 L602.5,168.1 L603.0,168.2 L603.5,168.3 L604.0,168.4 L604.5,168.5 L605.0,168.6 L605.5,168.7 L606.0,168.8 L606.5,168.9 L607.0,169.0 L607.5,169.2 L608.0,169.3 L608.5,169.4 L609.0,169.5 L609.5,169.6 L610.0,169.7 L610.5,169.8 L611.0,169.9 L611.5,170.0 L612.0,170.1 L612.5,170.2 L612.9,170.3 M616.4,171.0 L616.5,171.1 L617.0,171.2 L617.5,171.3 L618.0,171.4 L618.5,171.5 L619.0,171.6 L619.5,171.7 L620.0,171.8 L620.5,171.9 L621.0,172.0 L621.5,172.1 L622.0,172.2 L622.5,172.3 L622.6,172.3 M626.1,173.0 L626.2,173.1 L626.8,173.2 L627.2,173.4 L627.8,173.5 L628.2,173.6 L628.8,173.8 L629.2,173.9 L629.8,174.1 L630.2,174.2 L630.8,174.4 L631.2,174.6 L631.8,174.7 L632.2,174.9 L632.8,175.1 L633.2,175.2 L633.8,175.4 L634.2,175.6 L634.8,175.7 L635.2,175.9 L635.8,176.1 L636.2,176.2 L636.8,176.4 L637.2,176.6 L637.8,176.7 L638.2,176.9 L638.8,177.0 L639.2,177.1 L639.7,177.3 M643.1,178.2 L643.2,178.2 L643.8,178.4 L644.2,178.5 L644.8,178.6 L645.2,178.8 L645.8,178.9 L646.2,179.0 L646.8,179.2 L647.2,179.3 L647.8,179.4 L648.2,179.6 L648.8,179.7 L649.2,179.8 L649.3,179.8 M652.7,180.6 L652.8,180.6 L653.2,180.7 L653.8,180.8 L654.2,180.9 L654.8,181.1 L655.2,181.2 L655.8,181.3 L656.2,181.4 L656.8,181.5 L657.2,181.6 L657.8,181.7 L658.2,181.8 L658.8,181.9 L659.2,182.0 L659.8,182.1 L660.2,182.2 L660.8,182.3 L661.2,182.4 L661.8,182.5 L662.2,182.6 L662.8,182.7 L663.2,182.8 L663.8,182.9 L664.2,183.0 L664.8,183.1 L665.2,183.2 L665.8,183.3 L666.2,183.4 L666.7,183.5 M670.1,184.2 L670.2,184.2 L670.8,184.3 L671.2,184.4 L671.8,184.5 L672.2,184.6 L672.8,184.7 L673.2,184.8 L673.8,184.9 L674.2,185.0 L674.8,185.1 L675.2,185.2 L675.8,185.3 L676.2,185.4 L676.4,185.4 M679.8,186.1 L680.0,186.2 L680.5,186.3 L681.0,186.4 L681.5,186.5 L682.0,186.6 L682.5,186.7 L683.0,186.8 L683.5,186.9 L684.0,187.0 L684.5,187.1 L685.0,187.2 L685.5,187.3 L686.0,187.4 L686.5,187.5 L687.0,187.5 L687.5,187.6 L688.0,187.7 L688.5,187.8 L689.0,187.9 L689.5,187.9 L690.0,188.0 L690.5,188.0 L691.0,188.1 L691.5,188.2 L692.0,188.2 L692.5,188.3 L693.0,188.3 L693.5,188.3 L693.9,188.4 M697.4,188.5 L697.5,188.5 L698.0,188.5 L698.5,188.5 L699.0,188.5 L699.5,188.5 L700.0,188.5 L700.5,188.5 L701.0,188.4 L701.5,188.4 L702.0,188.4 L702.5,188.4 L703.0,188.4 L703.5,188.3 L703.8,188.3 M707.3,188.1 L707.5,188.1 L708.0,188.1 L708.5,188.0 L709.0,188.0 L709.5,187.9 L710.0,187.9 L710.5,187.9 L711.0,187.8 L711.5,187.8 L712.0,187.7 L712.5,187.7 L713.0,187.7 L713.5,187.6 L714.0,187.6 L714.5,187.5 L715.0,187.5 L715.5,187.4 L716.0,187.4 L716.5,187.3 L717.0,187.3 L717.5,187.2 L718.0,187.2 L718.5,187.1 L719.0,187.1 L719.5,187.0 L720.0,187.0 L720.5,186.9 L721.0,186.9 L721.5,186.8 L721.6,186.8 M725.1,186.5 L725.2,186.5 L725.8,186.4 L726.2,186.4 L726.8,186.3 L727.2,186.3 L727.8,186.3 L728.2,186.2 L728.8,186.2 L729.2,186.1 L729.8,186.1 L730.2,186.1 L730.8,186.0 L731.2,186.0 L731.4,186.0 M734.9,185.7 L735.0,185.7 L735.2,185.7 L735.5,185.7" stroke-width="3.4"/>
<path d="M57.0,184.2 L57.5,184.2 L58.0,184.2 L58.5,184.1 L59.0,184.1 L59.5,184.1 L60.0,184.1 L60.5,184.1 L61.0,184.1 L61.5,184.1 L62.0,184.1 L62.5,184.1 L63.0,184.1 L63.5,184.0 L64.0,184.0 L64.5,184.0 L65.0,184.0 L65.5,184.0 L66.0,184.0 L66.5,184.0 L67.0,184.0 L67.5,184.0 L68.0,184.0 L68.5,184.1 L69.0,184.1 L69.5,184.1 L70.0,184.1 L70.5,184.1 L71.0,184.1 L71.5,184.1 L72.0,184.1 L72.5,184.1 L73.0,184.2 L73.5,184.2 L74.0,184.2 L74.5,184.2 L75.0,184.2 L75.5,184.3 L76.0,184.3 L76.5,184.3 L77.0,184.3 L77.5,184.4 L78.0,184.4 L78.5,184.4 L79.0,184.4 L79.5,184.5 L80.0,184.5 L80.5,184.5 L81.0,184.6 L81.5,184.6 L82.0,184.6 L82.5,184.7 L83.0,184.7 L83.5,184.8 L84.0,184.8 L84.5,184.8 L85.0,184.9 L85.5,184.9 L86.0,185.0 L86.5,185.0 L87.0,185.1 L87.5,185.1 L88.0,185.2 L88.5,185.2 L89.0,185.3 L89.5,185.3 L90.0,185.4 L90.5,185.4 L91.0,185.5 L91.5,185.6 L92.0,185.6 L92.5,185.7 L93.0,185.7 L93.5,185.8 L94.0,185.9 L94.5,185.9 L95.0,186.0 L95.5,186.1 L96.0,186.2 L96.5,186.2 L97.0,186.3 L97.5,186.4 L98.0,186.5 L98.5,186.5 L99.0,186.6 L99.5,186.7 L100.0,186.8 L100.5,186.9 L101.0,187.0 L101.5,187.1 L102.0,187.2 L102.5,187.3 L103.0,187.4 L103.5,187.5 L104.0,187.6 L104.5,187.7 L105.0,187.8 L105.5,187.9 L106.0,188.0 L106.5,188.2 L107.0,188.3 L107.5,188.4 L108.0,188.5 L108.5,188.6 L109.0,188.7 L109.5,188.8 L110.0,188.9 L110.5,189.0 L111.0,189.1 L111.5,189.2 L112.0,189.3 L112.5,189.3 L113.0,189.4 L113.5,189.5 L114.0,189.6 L114.5,189.6 L115.0,189.7 L115.5,189.8 L116.0,189.8 L116.5,189.9 L117.0,189.9 L117.5,190.0 L118.0,190.0 L118.5,190.0 L119.0,190.0 L119.5,190.0 L120.0,190.0 L120.5,189.9 L121.0,189.8 L121.5,189.8 L122.0,189.6 L122.5,189.5 L123.0,189.4 L123.5,189.2 L124.0,189.0 L124.5,188.8 L125.0,188.5 L125.5,188.2 L126.0,187.9 L126.5,187.6 L127.0,187.2 L127.5,186.9 L128.0,186.5 L128.5,186.1 L129.0,185.8 L129.5,185.4 L130.0,185.0 L130.5,184.6 L131.0,184.1 L131.5,183.7 L132.0,183.3 L132.5,182.6 L133.0,181.5 L133.5,180.3 L134.0,179.2 L134.5,178.4 L135.0,178.2 L135.5,178.8 L136.0,179.5 L136.5,180.4 L137.0,181.2 L137.5,182.1 L138.0,182.9 L138.5,183.7 L139.0,184.6 L139.5,185.4 L140.0,186.3 L140.5,187.1 L141.0,187.9 L141.5,188.8 L142.0,189.6 L142.5,190.5 L143.0,191.3 L143.5,192.1 L144.0,193.1 L144.5,194.2 L145.0,195.5 L145.5,196.7 L146.0,198.0 L146.5,199.3 L147.0,200.5 L147.5,201.7 L148.0,202.9 L148.5,204.1 L149.0,205.3 L149.5,206.4 L150.0,207.6 L150.5,208.8 L151.0,210.0 L151.5,211.2 L152.0,212.3 L152.5,213.5 L153.0,214.6 L153.5,215.7 L154.0,216.8 L154.5,217.9 L155.0,219.0 L155.5,220.0 L156.0,221.0 L156.5,221.9 L157.0,222.8 L157.5,223.6 L158.0,224.4 L158.5,225.2 L159.0,226.0 L159.5,226.7 L160.0,227.4 L160.5,228.1 L161.0,228.6 L161.5,229.2 L162.0,229.7 L162.5,230.1 L163.0,230.5 L163.5,230.8 L164.0,231.1 L164.5,231.3 L165.0,231.4 L165.5,231.5 L166.0,231.4 L166.5,231.2 L167.0,231.0 L167.5,230.7 L168.0,230.2 L168.5,229.8 L169.0,229.2 L169.5,228.6 L170.0,228.0 L170.5,227.4 L171.0,226.9 L171.5,226.2 L172.0,225.3 L172.5,224.0 L173.0,222.5 L173.5,221.0 L174.0,219.5 L174.5,218.0 L175.0,216.5 L175.5,215.0 L176.0,213.5 L176.5,212.0 L177.0,210.5 L177.5,209.0 L178.0,207.5 L178.5,206.0 L179.0,204.5 L179.5,203.0 L180.0,201.4 L180.5,199.5 L181.0,197.5 L181.5,195.3 L182.0,193.1 L182.5,190.9 L183.0,188.8 L183.5,186.7 L184.0,184.7 L184.5,182.8 L185.0,180.8 L185.5,178.9 L186.0,176.9 L186.5,175.0 L187.0,173.1 L187.5,171.2 L188.0,169.3 L188.5,167.5 L189.0,165.7 L189.5,164.0 L190.0,162.4 L190.5,160.8 L191.0,159.3 L191.5,157.8 L192.0,156.3 L192.5,154.8 L193.0,153.3 L193.5,151.8 L194.0,150.2 L194.5,148.5 L195.0,146.9 L195.5,145.2 L196.0,143.6 L196.5,142.0 L197.0,140.6 L197.5,139.4 L198.0,138.4 L198.5,137.7 L199.0,137.1 L199.5,136.7 L200.0,136.4 L200.5,136.3 L201.0,136.3 L201.5,136.3 L202.0,136.6 L202.5,136.9 L203.0,137.4 L203.5,138.1 L204.0,139.0 L204.5,140.0 L205.0,141.1 L205.5,142.3 L206.0,143.5 L206.5,144.7 L207.0,146.1 L207.5,147.5 L208.0,149.0 L208.5,150.6 L209.0,152.1 L209.5,153.7 L210.0,155.3 L210.5,156.9 L211.0,158.4 L211.5,160.0 L212.0,161.6 L212.5,163.1 L213.0,164.7 L213.5,166.3 L214.0,167.9 L214.5,169.4 L215.0,171.0 L215.5,172.5 L216.0,173.9 L216.5,175.2 L217.0,176.4 L217.5,177.6 L218.0,178.7 L218.5,179.9 L219.0,181.0 L219.5,182.1 L220.0,183.1 L220.5,184.1 L221.0,185.0 L221.5,185.9 L222.0,186.8 L222.5,187.8 L223.0,188.8 L223.5,190.0 L224.0,191.4 L224.5,192.9 L225.0,194.5 L225.5,196.3 L226.0,198.1 L226.5,199.8 L227.0,201.5 L227.5,203.0 L228.0,204.4 L228.5,205.8 L229.0,207.1 L229.5,208.4 L230.0,209.7 L230.5,210.9 L231.0,212.1 L231.5,213.2 L232.0,214.3 L232.5,215.3 L233.0,216.3 L233.5,217.3 L234.0,218.2 L234.5,219.1 L235.0,219.9 L235.5,220.7 L236.0,221.5 L236.5,222.3 L237.0,223.0 L237.5,223.7 L238.0,224.4 L238.5,225.0 L239.0,225.5 L239.5,226.0 L240.0,226.5 L240.5,226.9 L241.0,227.3 L241.5,227.6 L242.0,227.8 L242.5,228.0 L243.0,228.0 L243.5,228.0 L244.0,227.9 L244.5,227.8 L245.0,227.6 L245.5,227.5 L246.0,227.2 L246.5,227.0 L247.0,226.7 L247.5,226.4 L248.0,226.0 L248.5,225.6 L249.0,225.2 L249.5,224.8 L250.0,224.4 L250.5,224.1 L251.0,223.6 L251.5,223.2 L252.0,222.8 L252.5,222.4 L253.0,221.9 L253.5,221.5 L254.0,221.0 L254.5,220.5 L255.0,220.0 L255.5,219.5 L256.0,219.0 L256.5,218.5 L257.0,218.0 L257.5,217.5 L258.0,217.0 L258.5,216.5 L259.0,216.0 L259.5,215.5 L260.0,215.0 L260.5,214.5 L261.0,214.0 L261.5,213.6 L262.0,213.1 L262.5,212.6 L263.0,212.2 L263.5,211.7 L264.0,211.3 L264.5,210.8 L265.0,210.4 L265.5,209.9 L266.0,209.5 L266.5,209.1 L267.0,208.7 L267.5,208.3 L268.0,207.9 L268.5,207.5 L269.0,207.2 L269.5,206.9 L270.0,206.5 L270.5,206.3 L271.0,206.0 L271.5,205.8 L272.0,205.6 L272.5,205.4 L273.0,205.2 L273.5,205.1 L274.0,205.0 L274.5,205.0 L275.0,205.0 L275.5,205.0 L276.0,205.0 L276.5,205.1 L277.0,205.1 L277.5,205.2 L278.0,205.2 L278.5,205.3 L279.0,205.3 L279.5,205.4 L280.0,205.5 L280.5,205.5 L281.0,205.6 L281.5,205.7 L282.0,205.8 L282.5,205.9 L283.0,205.9 L283.5,206.0 L284.0,206.1 L284.5,206.1 L285.0,206.2 L285.5,206.2 L286.0,206.2 L286.5,206.3 L287.0,206.3 L287.5,206.4 L288.0,206.5 L288.5,206.7 L289.0,206.9 L289.5,207.1 L290.0,207.5 L290.5,207.8 L291.0,208.2 L291.5,208.6 L292.0,209.0 L292.5,209.4 L293.0,209.8 L293.5,210.2 L294.0,210.6 L294.5,211.0 L295.0,211.4 L295.5,211.8 L296.0,212.2 L296.5,212.6 L297.0,213.0 L297.5,213.4 L298.0,213.8 L298.5,214.2 L299.0,214.6 L299.5,215.0 L300.0,215.4 L300.5,215.8 L301.0,216.2 L301.5,216.6 L302.0,217.0 L302.5,217.4 L303.0,217.8 L303.5,218.2 L304.0,218.6 L304.5,219.0 L305.0,219.4 L305.5,219.8 L306.0,220.2 L306.5,220.5 L307.0,220.9 L307.5,221.3 L308.0,221.7 L308.5,222.1 L309.0,222.5 L309.5,222.8 L310.0,223.2 L310.5,223.6 L311.0,223.9 L311.5,224.3 L312.0,224.7 L312.5,225.0 L313.0,225.4 L313.5,225.7 L314.0,226.1 L314.5,226.5 L315.0,226.8 L315.5,227.2 L316.0,227.6 L316.5,227.9 L317.0,228.3 L317.5,228.6 L318.0,229.0 L318.5,229.4 L319.0,229.7 L319.5,230.1 L320.0,230.4 L320.5,230.8 L321.0,231.2 L321.5,231.5 L322.0,231.9 L322.5,232.2 L323.0,232.6 L323.5,233.0 L324.0,233.3 L324.5,233.7 L325.0,234.1 L325.5,234.4 L326.0,234.8 L326.5,235.1 L327.0,235.5 L327.5,235.8 L328.0,236.2 L328.5,236.6 L329.0,236.9 L329.5,237.3 L330.0,237.6 L330.5,238.0 L331.0,238.3 L331.5,238.6 L332.0,238.9 L332.5,239.2 L333.0,239.5 L333.5,239.8 L334.0,240.1 L334.5,240.4 L335.0,240.7 L335.5,241.0 L336.0,241.2 L336.5,241.5 L337.0,241.7 L337.5,242.0 L338.0,242.2 L338.5,242.3 L339.0,242.5 L339.5,242.6 L340.0,242.7 L340.5,242.8 L341.0,242.9 L341.5,242.9 L342.0,243.0 L342.5,243.0 L343.0,243.0 L343.5,243.0 L344.0,243.0 L344.5,242.9 L345.0,242.9 L345.5,242.8 L346.0,242.6 L346.5,242.4 L347.0,242.2 L347.5,242.0 L348.0,241.7 L348.5,241.4 L349.0,241.2 L349.5,240.9 L350.0,240.7 L350.5,240.4 L351.0,240.2 L351.5,239.9 L352.0,239.7 L352.5,239.4 L353.0,239.2 L353.5,238.9 L354.0,238.7 L354.5,238.5 L355.0,238.2 L355.5,238.0 L356.0,237.8 L356.5,237.5 L357.0,237.3 L357.5,237.0 L358.0,236.8 L358.5,236.5 L359.0,236.1 L359.5,235.8 L360.0,235.5 L360.5,235.2 L361.0,234.9 L361.5,234.6 L362.0,234.3 L362.5,234.0 L363.0,233.6 L363.5,233.3 L364.0,233.0 L364.5,232.7 L365.0,232.4 L365.5,232.1 L366.0,231.8 L366.5,231.4 L367.0,231.1 L367.5,230.8 L368.0,230.5 L368.5,230.2 L369.0,229.9 L369.5,229.6 L370.0,229.3 L370.5,228.9 L371.0,228.6 L371.5,228.3 L372.0,227.9 L372.5,227.6 L373.0,227.2 L373.5,226.8 L374.0,226.4 L374.5,226.0 L375.0,225.6 L375.5,225.2 L376.0,224.8 L376.5,224.4 L377.0,224.0 L377.5,223.5 L378.0,223.1 L378.5,222.6 L379.0,222.1 L379.5,221.6 L380.0,221.2 L380.5,220.8 L381.0,220.4 L381.5,220.1 L382.0,219.7 L382.5,219.4 L383.0,219.0 L383.5,218.7 L384.0,218.3 L384.5,218.0 L385.0,217.7 L385.5,217.4 L386.0,217.0 L386.5,216.7 L387.0,216.4 L387.5,216.1 L388.0,215.8 L388.5,215.4 L389.0,215.1 L389.5,214.8 L390.0,214.5 L390.5,214.2 L391.0,213.9 L391.5,213.6 L392.0,213.3 L392.5,213.0 L393.0,212.7 L393.5,212.4 L394.0,212.1 L394.5,211.8 L395.0,211.5 L395.5,211.2 L396.0,210.9 L396.5,210.7 L397.0,210.4 L397.5,210.1 L398.0,209.8 L398.5,209.5 L399.0,209.2 L399.5,208.9 L400.0,208.6 L400.5,208.3 L401.0,207.9 L401.5,207.6 L402.0,207.3 L402.5,207.0 L403.0,206.7 L403.5,206.3 L404.0,206.0 L404.5,205.6 L405.0,205.3 L405.5,204.9 L406.0,204.5 L406.5,204.1 L407.0,203.7 L407.5,203.3 L408.0,202.9 L408.5,202.4 L409.0,201.9 L409.5,201.4 L410.0,200.9 L410.5,200.4 L411.0,199.8 L411.5,199.3 L412.0,198.7 L412.5,198.2 L413.0,197.6 L413.5,197.1 L414.0,196.5 L414.5,196.0 L415.0,195.4 L415.5,194.8 L416.0,194.3 L416.5,193.7 L417.0,193.1 L417.5,192.6 L418.0,192.0 L418.5,191.5 L419.0,190.9 L419.5,190.3 L420.0,189.8 L420.5,189.2 L421.0,188.7 L421.5,188.1 L422.0,187.6 L422.5,187.0 L423.0,186.4 L423.5,185.9 L424.0,185.3 L424.5,184.8 L425.0,184.2 L425.5,183.7 L426.0,183.1 L426.5,182.6 L427.0,182.1 L427.5,181.5 L428.0,181.0 L428.5,180.5 L429.0,180.0 L429.5,179.6 L430.0,179.1 L430.5,178.7 L431.0,178.3 L431.5,178.0 L432.0,177.6 L432.5,177.2 L433.0,176.9 L433.5,176.5 L434.0,176.1 L434.5,175.8 L435.0,175.4 L435.5,174.9 L436.0,174.5 L436.5,174.0 L437.0,173.6 L437.5,173.1 L438.0,172.7 L438.5,172.2 L439.0,171.7 L439.5,171.3 L440.0,170.8 L440.5,170.3 L441.0,169.9 L441.5,169.4 L442.0,168.9 L442.5,168.5 L443.0,168.0 L443.5,167.5 L444.0,167.0 L444.5,166.5 L445.0,165.9 L445.5,165.3 L446.0,164.7 L446.5,164.2 L447.0,163.6 L447.5,163.0 L448.0,162.5 L448.5,161.9 L449.0,161.4 L449.5,161.0 L450.0,160.5 L450.5,160.1 L451.0,159.8 L451.5,159.5 L452.0,159.2 L452.5,159.0 L453.0,158.8 L453.5,158.6 L454.0,158.4 L454.5,158.2 L455.0,158.0 L455.5,157.8 L456.0,157.6 L456.5,157.5 L457.0,157.3 L457.5,157.2 L458.0,157.0 L458.5,156.9 L459.0,156.7 L459.5,156.6 L460.0,156.4 L460.5,156.3 L461.0,156.1 L461.5,156.0 L462.0,155.8 L462.5,155.6 L463.0,155.5 L463.5,155.3 L464.0,155.1 L464.5,155.0 L465.0,154.8 L465.5,154.6 L466.0,154.5 L466.5,154.3 L467.0,154.2 L467.5,154.0 L468.0,153.8 L468.5,153.7 L469.0,153.5 L469.5,153.3 L470.0,153.2 L470.5,153.0 L471.0,152.8 L471.5,152.7 L472.0,152.5 L472.5,152.4 L473.0,152.2 L473.5,152.0 L474.0,151.9 L474.5,151.7 L475.0,151.6 L475.5,151.4 L476.0,151.3 L476.5,151.1 L477.0,151.0 L477.5,150.8 L478.0,150.7 L478.5,150.5 L479.0,150.4 L479.5,150.2 L480.0,150.1 L480.5,149.9 L481.0,149.8 L481.5,149.6 L482.0,149.5 L482.5,149.3 L483.0,149.2 L483.5,149.0 L484.0,148.9 L484.5,148.7 L485.0,148.6 L485.5,148.4 L486.0,148.2 L486.5,148.1 L487.0,147.9 L487.5,147.7 L488.0,147.5 L488.5,147.4 L489.0,147.2 L489.5,147.0 L490.0,146.8 L490.5,146.6 L491.0,146.4 L491.5,146.2 L492.0,146.0 L492.5,145.9 L493.0,145.7 L493.5,145.5 L494.0,145.3 L494.5,145.1 L495.0,144.9 L495.5,144.7 L496.0,144.5 L496.5,144.4 L497.0,144.2 L497.5,144.0 L498.0,143.8 L498.5,143.7 L499.0,143.5 L499.5,143.3 L500.0,143.2 L500.5,143.0 L501.0,142.9 L501.5,142.7 L502.0,142.6 L502.5,142.5 L503.0,142.4 L503.5,142.2 L504.0,142.1 L504.5,142.0 L505.0,141.9 L505.5,141.8 L506.0,141.7 L506.5,141.6 L507.0,141.5 L507.5,141.4 L508.0,141.3 L508.5,141.2 L509.0,141.1 L509.5,141.0 L510.0,140.9 L510.5,140.8 L511.0,140.7 L511.5,140.6 L512.0,140.5 L512.5,140.5 L513.0,140.4 L513.5,140.3 L514.0,140.2 L514.5,140.1 L515.0,140.0 L515.5,140.0 L516.0,139.9 L516.5,139.8 L517.0,139.7 L517.5,139.7 L518.0,139.6 L518.5,139.6 L519.0,139.5 L519.5,139.5 L520.0,139.5 L520.5,139.5 L521.0,139.5 L521.5,139.5 L522.0,139.5 L522.5,139.6 L523.0,139.6 L523.5,139.7 L524.0,139.8 L524.5,139.9 L525.0,140.0 L525.5,140.1 L526.0,140.3 L526.5,140.4 L527.0,140.5 L527.5,140.7 L528.0,140.8 L528.5,141.0 L529.0,141.1 L529.5,141.3 L530.0,141.4 L530.5,141.6 L531.0,141.8 L531.5,141.9 L532.0,142.1 L532.5,142.3 L533.0,142.5 L533.5,142.6 L534.0,142.8 L534.5,143.0 L535.0,143.2 L535.5,143.4 L536.0,143.5 L536.5,143.7 L537.0,143.9 L537.5,144.1 L538.0,144.3 L538.5,144.5 L539.0,144.6 L539.5,144.8 L540.0,145.0 L540.5,145.2 L541.0,145.4 L541.5,145.6 L542.0,145.7 L542.5,145.9 L543.0,146.1 L543.5,146.3 L544.0,146.5 L544.5,146.7 L545.0,146.9 L545.5,147.1 L546.0,147.3 L546.5,147.5 L547.0,147.6 L547.5,147.8 L548.0,148.0 L548.5,148.2 L549.0,148.4 L549.5,148.6 L550.0,148.8 L550.5,149.0 L551.0,149.2 L551.5,149.4 L552.0,149.6 L552.5,149.8 L553.0,150.0 L553.5,150.2 L554.0,150.4 L554.5,150.6 L555.0,150.8 L555.5,151.0 L556.0,151.2 L556.5,151.3 L557.0,151.5 L557.5,151.7 L558.0,151.9 L558.5,152.1 L559.0,152.3 L559.5,152.5 L560.0,152.7 L560.5,152.9 L561.0,153.1 L561.5,153.3 L562.0,153.5 L562.5,153.6 L563.0,153.8 L563.5,154.0 L564.0,154.2 L564.5,154.4 L565.0,154.6 L565.5,154.8 L566.0,155.0 L566.5,155.1 L567.0,155.3 L567.5,155.5 L568.0,155.7 L568.5,155.9 L569.0,156.0 L569.5,156.2 L570.0,156.4 L570.5,156.6 L571.0,156.7 L571.5,156.9 L572.0,157.1 L572.5,157.2 L573.0,157.4 L573.5,157.6 L574.0,157.7 L574.5,157.9 L575.0,158.0 L575.5,158.2 L576.0,158.3 L576.5,158.5 L577.0,158.6 L577.5,158.8 L578.0,158.9 L578.5,159.0 L579.0,159.2 L579.5,159.3 L580.0,159.5 L580.5,159.6 L581.0,159.8 L581.5,159.9 L582.0,160.0 L582.5,160.2 L583.0,160.3 L583.5,160.5 L584.0,160.6 L584.5,160.7 L585.0,160.9 L585.5,161.0 L586.0,161.1 L586.5,161.3 L587.0,161.4 L587.5,161.6 L588.0,161.7 L588.5,161.8 L589.0,162.0 L589.5,162.1 L590.0,162.2 L590.5,162.4 L591.0,162.5 L591.5,162.7 L592.0,162.8 L592.5,162.9 L593.0,163.1 L593.5,163.2 L594.0,163.3 L594.5,163.5 L595.0,163.6 L595.5,163.7 L596.0,163.9 L596.5,164.0 L597.0,164.1 L597.5,164.2 L598.0,164.4 L598.5,164.5 L599.0,164.7 L599.5,164.8 L600.0,164.9 L600.5,165.1 L601.0,165.2 L601.5,165.3 L602.0,165.5 L602.5,165.6 L603.0,165.7 L603.5,165.9 L604.0,166.0 L604.5,166.2 L605.0,166.3 L605.5,166.5 L606.0,166.6 L606.5,166.8 L607.0,166.9 L607.5,167.0 L608.0,167.2 L608.5,167.3 L609.0,167.5 L609.5,167.7 L610.0,167.8 L610.5,168.0 L611.0,168.1 L611.5,168.3 L612.0,168.4 L612.5,168.6 L613.0,168.7 L613.5,168.9 L614.0,169.0 L614.5,169.2 L615.0,169.4 L615.5,169.5 L616.0,169.7 L616.5,169.8 L617.0,170.0 L617.5,170.2 L618.0,170.3 L618.5,170.5 L619.0,170.6 L619.5,170.8 L620.0,171.0 L620.5,171.1 L621.0,171.3 L621.5,171.4 L622.0,171.6 L622.5,171.8 L623.0,171.9 L623.5,172.1 L624.0,172.3 L624.5,172.4 L625.0,172.6 L625.5,172.8 L626.0,172.9 L626.5,173.1 L627.0,173.2 L627.5,173.4 L628.0,173.5 L628.5,173.7 L629.0,173.9 L629.5,174.0 L630.0,174.2 L630.5,174.3 L631.0,174.5 L631.5,174.6 L632.0,174.8 L632.5,174.9 L633.0,175.1 L633.5,175.2 L634.0,175.4 L634.5,175.5 L635.0,175.6 L635.5,175.8 L636.0,175.9 L636.5,176.1 L637.0,176.2 L637.5,176.4 L638.0,176.5 L638.5,176.6 L639.0,176.8 L639.5,176.9 L640.0,177.1 L640.5,177.2 L641.0,177.3 L641.5,177.5 L642.0,177.6 L642.5,177.7 L643.0,177.8 L643.5,178.0 L644.0,178.1 L644.5,178.2 L645.0,178.4 L645.5,178.5 L646.0,178.6 L646.5,178.7 L647.0,178.8 L647.5,179.0 L648.0,179.1 L648.5,179.2 L649.0,179.3 L649.5,179.4 L650.0,179.6 L650.5,179.7 L651.0,179.8 L651.5,179.9 L652.0,180.0 L652.5,180.1 L653.0,180.3 L653.5,180.4 L654.0,180.5 L654.5,180.6 L655.0,180.7 L655.5,180.8 L656.0,180.9 L656.5,181.1 L657.0,181.2 L657.5,181.3 L658.0,181.4 L658.5,181.5 L659.0,181.6 L659.5,181.7 L660.0,181.8 L660.5,181.9 L661.0,182.0 L661.5,182.1 L662.0,182.2 L662.5,182.3 L663.0,182.4 L663.5,182.5 L664.0,182.6 L664.5,182.7 L665.0,182.9 L665.5,183.0 L666.0,183.1 L666.5,183.2 L667.0,183.2 L667.5,183.3 L668.0,183.4 L668.5,183.5 L669.0,183.6 L669.5,183.7 L670.0,183.8 L670.5,183.9 L671.0,184.0 L671.5,184.1 L672.0,184.2 L672.5,184.3 L673.0,184.4 L673.5,184.5 L674.0,184.5 L674.5,184.6 L675.0,184.7 L675.5,184.8 L676.0,184.9 L676.5,184.9 L677.0,185.0 L677.5,185.1 L678.0,185.2 L678.5,185.2 L679.0,185.3 L679.5,185.4 L680.0,185.4 L680.5,185.5 L681.0,185.6 L681.5,185.6 L682.0,185.7 L682.5,185.7 L683.0,185.8 L683.5,185.8 L684.0,185.9 L684.5,185.9 L685.0,186.0 L685.5,186.0 L686.0,186.1 L686.5,186.1 L687.0,186.2 L687.5,186.2 L688.0,186.2 L688.5,186.3 L689.0,186.3 L689.5,186.3 L690.0,186.4 L690.5,186.4 L691.0,186.4 L691.5,186.5 L692.0,186.5 L692.5,186.5 L693.0,186.5 L693.5,186.5 L694.0,186.6 L694.5,186.6 L695.0,186.6 L695.5,186.6 L696.0,186.6 L696.5,186.6 L697.0,186.6 L697.5,186.6 L698.0,186.6 L698.5,186.6 L699.0,186.6 L699.5,186.6 L700.0,186.6 L700.5,186.6 L701.0,186.6 L701.5,186.6 L702.0,186.6 L702.5,186.6 L703.0,186.6 L703.5,186.5 L704.0,186.5 L704.5,186.5 L705.0,186.5 L705.5,186.5 L706.0,186.5 L706.5,186.5 L707.0,186.5 L707.5,186.4 L708.0,186.4 L708.5,186.4 L709.0,186.4 L709.5,186.4 L710.0,186.4 L710.5,186.3 L711.0,186.3 L711.5,186.3 L712.0,186.3 L712.5,186.3 L713.0,186.2 L713.5,186.2 L714.0,186.2 L714.5,186.1 L715.0,186.1 L715.5,186.1 L716.0,186.1 L716.5,186.0 L717.0,186.0 L717.5,186.0 L718.0,185.9 L718.5,185.9 L719.0,185.9 L719.5,185.8 L720.0,185.8 L720.5,185.8 L721.0,185.7 L721.5,185.7 L722.0,185.7 L722.5,185.6 L723.0,185.6 L723.5,185.6 L724.0,185.5 L724.5,185.5 L725.0,185.5 L725.5,185.5 L726.0,185.4 L726.5,185.4 L727.0,185.4 L727.5,185.3 L728.0,185.3 L728.5,185.3 L729.0,185.3 L729.5,185.2 L730.0,185.2 L730.5,185.2 L731.0,185.2 L731.5,185.2 L732.0,185.1 L732.5,185.1 L733.0,185.1 L733.5,185.1 L734.0,185.1 L734.5,185.0 L735.0,185.0 L735.5,185.0" stroke-width="3.4" stroke-dasharray="3 3.8"/>
<path d="M138.4,183.1 L138.5,183.2 L139.0,184.1 L139.5,185.2 L140.0,186.3 L140.5,187.4 L141.0,188.5 L141.5,189.7 L142.0,190.8 L142.5,191.9 L143.0,193.0 L143.5,194.1 L143.8,194.9 M116.5,189.7 L116.5,189.7 L117.0,189.8 L117.5,189.9 L118.0,190.0 L118.5,190.1 L119.0,190.2 L119.5,190.3 L120.0,190.3 L120.5,190.4 L121.0,190.4 L121.5,190.4 L122.0,190.3 L122.5,190.3 L123.0,190.1 L123.5,190.0 L124.0,189.8 L124.5,189.5 L125.0,189.2 L125.5,188.9 L126.0,188.4 L126.5,188.0 L127.0,187.5 L127.5,187.0 L128.0,186.5 L128.1,186.4 M89.9,184.7 L90.0,184.7 L90.5,184.7 L91.0,184.8 L91.5,184.8 L92.0,184.9 L92.5,185.0 L93.0,185.0 L93.5,185.1 L94.0,185.2 L94.5,185.2 L95.0,185.3 L95.5,185.4 L96.0,185.5 L96.5,185.6 L97.0,185.6 L97.5,185.7 L98.0,185.8 L98.5,185.9 L99.0,186.0 L99.5,186.1 L100.0,186.2 L100.5,186.3 L101.0,186.4 L101.5,186.5 L102.0,186.6 L102.5,186.7 L102.8,186.8 M63.0,183.2 L63.0,183.2 L63.5,183.2 L64.0,183.2 L64.5,183.2 L65.0,183.2 L65.5,183.2 L66.0,183.2 L66.5,183.2 L67.0,183.2 L67.5,183.2 L68.0,183.3 L68.5,183.3 L69.0,183.3 L69.5,183.3 L70.0,183.3 L70.5,183.3 L71.0,183.3 L71.5,183.3 L72.0,183.4 L72.5,183.4 L73.0,183.4 L73.5,183.4 L74.0,183.4 L74.5,183.5 L75.0,183.5 L75.5,183.5 L76.0,183.5 M149.5,207.7 L149.5,207.7 L150.0,208.9 L150.5,210.0 L151.0,211.1 L151.5,212.3 L152.0,213.4 L152.5,214.6 L153.0,215.7 L153.5,216.9 L154.0,218.2 L154.4,219.7 M157.9,232.4 L158.0,232.6 L158.5,234.0 L159.0,235.2 L159.5,236.1 L160.0,236.8 L160.5,237.3 L161.0,237.6 L161.5,237.8 L162.0,238.0 L162.5,238.1 L163.0,238.0 L163.5,237.9 L164.0,237.7 L164.5,237.3 L165.0,236.7 L165.5,236.0 L166.0,235.1 L166.2,234.8 M170.2,220.6 L170.2,220.4 L170.8,218.2 L171.2,216.0 L171.8,214.0 L172.2,212.0 L172.8,210.0 L173.2,208.0 L173.3,207.9 M176.8,193.6 L177.0,192.7 L177.5,190.0 L178.0,187.0 L178.5,183.7 L178.9,180.8 M181.1,166.2 L181.2,165.1 L181.8,161.9 L182.2,158.7 L182.8,155.5 L183.1,153.3 M185.6,138.8 L185.8,137.7 L186.2,135.2 L186.8,133.0 L187.2,131.1 L187.8,129.4 L188.2,127.9 L188.8,126.7 L188.9,126.2 M194.7,116.8 L194.8,116.7 L195.2,116.3 L195.8,116.0 L196.2,115.7 L196.8,115.4 L197.2,115.1 L197.8,114.9 L198.2,114.8 L198.8,114.6 L199.2,114.6 L199.8,114.5 L200.2,114.5 L200.8,114.5 L201.2,114.6 L201.8,114.6 L202.2,114.7 L202.8,114.9 L203.2,115.1 L203.8,115.3 L204.2,115.6 L204.8,115.9 L205.2,116.3 L205.8,116.7 L206.2,117.3 L206.3,117.3 M212.2,127.5 L212.2,127.5 L212.8,128.7 L213.2,129.9 L213.8,131.3 L214.2,132.8 L214.8,134.5 L215.2,136.6 L215.8,139.0 L215.9,139.9 M217.9,151.7 L218.0,152.6 L218.5,156.2 L219.0,159.7 L219.5,163.3 L219.7,164.6 M221.5,176.4 L221.8,177.7 L222.2,180.7 L222.8,183.5 L223.2,186.3 L223.8,188.8 L223.8,189.2 M226.8,200.8 L227.0,201.6 L227.5,203.1 L228.0,204.4 L228.5,205.8 L229.0,207.1 L229.5,208.4 L230.0,209.7 L230.5,210.9 L231.0,212.1 L231.4,212.9 M236.9,223.5 L237.0,223.6 L237.5,224.4 L238.0,225.2 L238.5,225.9 L239.0,226.6 L239.5,227.2 L240.0,227.8 L240.5,228.4 L241.0,228.8 L241.5,229.3 L242.0,229.6 L242.5,230.0 L243.0,230.2 L243.5,230.4 L244.0,230.5 L244.5,230.6 L245.0,230.6 L245.5,230.6 L246.0,230.5 L246.5,230.3 L246.7,230.3 M255.6,222.4 L255.8,222.2 L256.2,221.7 L256.8,221.3 L257.2,220.8 L257.8,220.3 L258.2,219.9 L258.8,219.5 L259.2,219.1 L259.8,218.7 L260.2,218.3 L260.8,218.0 L261.2,217.6 L261.8,217.3 L262.2,217.0 L262.8,216.7 L263.2,216.4 L263.8,216.1 L264.2,215.8 L264.8,215.5 L265.2,215.3 L265.8,215.0 L266.1,214.8 M280.3,211.5 L280.5,211.5 L281.0,211.5 L281.5,211.6 L282.0,211.6 L282.5,211.7 L283.0,211.8 L283.5,211.9 L284.0,212.0 L284.5,212.1 L285.0,212.3 L285.5,212.4 L286.0,212.6 L286.5,212.8 L287.0,213.0 L287.5,213.2 L288.0,213.4 L288.5,213.7 L289.0,213.9 L289.5,214.2 L290.0,214.5 L290.5,214.8 L291.0,215.1 L291.5,215.5 L292.0,215.8 L292.3,216.0 M303.9,225.0 L304.0,225.2 L304.5,225.8 L305.0,226.4 L305.5,227.0 L306.0,227.7 L306.5,228.4 L307.0,229.0 L307.5,229.7 L308.0,230.4 L308.5,231.1 L309.0,231.8 L309.5,232.4 L310.0,233.1 L310.5,233.8 L311.0,234.4 L311.5,235.1 L311.7,235.4 M320.8,247.0 L321.0,247.1 L321.5,247.6 L322.0,248.0 L322.5,248.5 L323.0,248.9 L323.5,249.3 L324.0,249.7 L324.5,250.0 L325.0,250.4 L325.5,250.8 L326.0,251.2 L326.5,251.5 L327.0,251.9 L327.5,252.2 L328.0,252.5 L328.5,252.8 L329.0,253.1 L329.5,253.4 L330.0,253.7 L330.5,253.9 L331.0,254.1 L331.4,254.4 M345.8,255.6 L346.0,255.5 L346.5,255.3 L347.0,255.1 L347.5,254.9 L348.0,254.7 L348.5,254.4 L349.0,254.2 L349.5,253.9 L350.0,253.6 L350.5,253.4 L351.0,253.1 L351.5,252.8 L352.0,252.5 L352.5,252.1 L353.0,251.8 L353.5,251.5 L354.0,251.1 L354.5,250.8 L355.0,250.4 L355.5,250.0 L356.0,249.6 L356.5,249.2 L356.9,248.8 M368.1,239.3 L368.2,239.2 L368.8,238.8 L369.2,238.4 L369.8,237.9 L370.2,237.5 L370.8,237.1 L371.2,236.6 L371.8,236.2 L372.2,235.7 L372.8,235.2 L373.2,234.8 L373.8,234.3 L374.2,233.8 L374.8,233.3 L375.2,232.9 L375.8,232.4 L376.2,231.9 L376.8,231.5 L377.2,231.0 L377.7,230.5 M386.3,222.5 L386.5,222.2 L387.0,221.8 L387.5,221.3 L388.0,220.8 L388.5,220.4 L389.0,219.9 L389.5,219.4 L390.0,218.9 L390.5,218.5 L391.0,218.0 L391.5,217.5 L392.0,217.1 L392.5,216.6 L393.0,216.2 L393.5,215.7 L394.0,215.3 L394.5,214.8 L395.0,214.4 L395.5,213.9 L395.8,213.6 M405.4,205.0 L405.5,204.9 L406.0,204.4 L406.5,204.0 L407.0,203.5 L407.5,203.0 L408.0,202.5 L408.5,202.0 L409.0,201.5 L409.5,201.0 L410.0,200.5 L410.5,200.0 L411.0,199.4 L411.5,198.9 L412.0,198.3 L412.5,197.7 L413.0,197.1 L413.5,196.6 L414.0,196.0 L414.3,195.6 M424.5,184.5 L424.8,184.2 L425.2,183.7 L425.8,183.2 L426.2,182.7 L426.8,182.3 L427.2,181.8 L427.8,181.3 L428.2,180.8 L428.8,180.3 L429.2,179.8 L429.8,179.3 L430.2,178.7 L430.8,178.2 L431.2,177.6 L431.8,177.0 L432.2,176.4 L432.8,175.8 L433.2,175.2 L433.4,175.0 M442.3,162.8 L442.5,162.5 L443.0,161.8 L443.5,161.1 L444.0,160.4 L444.5,159.7 L445.0,159.1 L445.5,158.5 L446.0,158.0 L446.5,157.5 L447.0,157.0 L447.5,156.6 L448.0,156.2 L448.5,155.8 L449.0,155.4 L449.5,155.1 L450.0,154.8 L450.5,154.5 L451.0,154.2 L451.5,153.9 L451.5,153.9 M464.6,148.2 L464.8,148.1 L465.2,147.9 L465.8,147.7 L466.2,147.5 L466.8,147.3 L467.2,147.1 L467.8,146.9 L468.2,146.7 L468.8,146.5 L469.2,146.3 L469.8,146.1 L470.2,145.9 L470.8,145.8 L471.2,145.6 L471.8,145.4 L472.2,145.2 L472.8,145.0 L473.2,144.8 L473.8,144.7 L474.2,144.5 L474.8,144.3 L475.2,144.1 L475.8,143.9 L476.2,143.7 L476.7,143.6 M490.2,139.6 L490.2,139.5 L490.8,139.4 L491.2,139.3 L491.8,139.2 L492.2,139.1 L492.8,139.0 L493.2,138.9 L493.8,138.7 L494.2,138.6 L494.8,138.5 L495.2,138.4 L495.8,138.3 L496.2,138.2 L496.8,138.1 L497.2,138.0 L497.8,137.9 L498.2,137.8 L498.8,137.7 L499.2,137.6 L499.8,137.5 L500.2,137.4 L500.8,137.3 L501.2,137.3 L501.8,137.2 L502.2,137.1 L502.8,137.0 L502.9,137.0 M516.2,135.0 L516.2,135.0 L516.8,135.0 L517.2,134.9 L517.8,134.9 L518.2,134.8 L518.8,134.8 L519.2,134.7 L519.8,134.7 L520.2,134.7 L520.8,134.6 L521.2,134.6 L521.8,134.6 L522.2,134.5 L522.8,134.5 L523.2,134.5 L523.8,134.5 L524.2,134.5 L524.8,134.5 L525.2,134.5 L525.8,134.5 L526.2,134.6 L526.8,134.6 L527.2,134.7 L527.8,134.8 L528.2,134.9 L528.8,135.1 L529.1,135.2 M541.4,141.8 L541.5,141.9 L542.0,142.2 L542.5,142.5 L543.0,142.8 L543.5,143.1 L544.0,143.4 L544.5,143.6 L545.0,143.9 L545.5,144.2 L546.0,144.4 L546.5,144.7 L547.0,144.9 L547.5,145.2 L548.0,145.4 L548.5,145.7 L549.0,145.9 L549.5,146.2 L550.0,146.4 L550.5,146.7 L551.0,146.9 L551.5,147.1 L552.0,147.4 L552.5,147.6 L552.9,147.8 M565.7,153.6 L565.8,153.7 L566.2,153.9 L566.8,154.1 L567.2,154.3 L567.8,154.5 L568.2,154.7 L568.8,155.0 L569.2,155.2 L569.8,155.4 L570.2,155.6 L570.8,155.8 L571.2,156.0 L571.8,156.1 L572.2,156.3 L572.8,156.5 L573.2,156.7 L573.8,156.8 L574.2,157.0 L574.8,157.1 L575.2,157.3 L575.8,157.4 L576.2,157.6 L576.8,157.7 L577.2,157.9 L577.8,158.0 L577.9,158.1 M591.3,162.2 L591.5,162.2 L592.0,162.4 L592.5,162.5 L593.0,162.7 L593.5,162.8 L594.0,163.0 L594.5,163.1 L595.0,163.3 L595.5,163.4 L596.0,163.6 L596.5,163.8 L597.0,163.9 L597.5,164.1 L598.0,164.2 L598.5,164.4 L599.0,164.5 L599.5,164.7 L600.0,164.8 L600.5,165.0 L601.0,165.1 L601.5,165.3 L602.0,165.4 L602.5,165.6 L603.0,165.7 L603.5,165.9 L603.7,165.9 M617.0,170.4 L617.0,170.4 L617.5,170.6 L618.0,170.8 L618.5,171.0 L619.0,171.1 L619.5,171.3 L620.0,171.5 L620.5,171.7 L621.0,172.0 L621.5,172.2 L622.0,172.4 L622.5,172.6 L623.0,172.8 L623.5,173.0 L624.0,173.2 L624.5,173.3 L625.0,173.5 L625.5,173.7 L626.0,173.8 L626.5,174.0 L627.0,174.1 L627.5,174.3 L628.0,174.4 L628.5,174.6 L629.0,174.7 L629.2,174.8 M642.6,178.9 L642.8,178.9 L643.2,179.1 L643.8,179.2 L644.2,179.4 L644.8,179.5 L645.2,179.7 L645.8,179.8 L646.2,180.0 L646.8,180.1 L647.2,180.3 L647.8,180.4 L648.2,180.6 L648.8,180.7 L649.2,180.9 L649.8,181.0 L650.2,181.2 L650.8,181.4 L651.2,181.5 L651.8,181.7 L652.2,181.8 L652.8,182.0 L653.2,182.1 L653.8,182.3 L654.2,182.4 L654.8,182.6 L655.0,182.7 M668.7,185.9 L668.8,185.9 L669.2,186.0 L669.8,186.1 L670.2,186.2 L670.8,186.3 L671.2,186.3 L671.8,186.4 L672.2,186.5 L672.8,186.6 L673.2,186.7 L673.8,186.7 L674.2,186.8 L674.8,186.9 L675.2,187.0 L675.8,187.0 L676.2,187.1 L676.8,187.2 L677.2,187.2 L677.8,187.3 L678.2,187.3 L678.8,187.4 L679.2,187.5 L679.8,187.5 L680.2,187.6 L680.8,187.6 L681.2,187.7 L681.5,187.7 M695.5,189.0 L695.5,189.0 L696.0,189.0 L696.5,189.0 L697.0,189.0 L697.5,189.0 L698.0,189.0 L698.5,189.0 L699.0,189.0 L699.5,189.0 L700.0,189.0 L700.5,189.0 L701.0,188.9 L701.5,188.9 L702.0,188.9 L702.5,188.9 L703.0,188.9 L703.5,188.8 L704.0,188.8 L704.5,188.8 L705.0,188.7 L705.5,188.7 L706.0,188.7 L706.5,188.6 L707.0,188.6 L707.5,188.6 L708.0,188.5 L708.4,188.5 M722.4,187.0 L722.5,187.0 L723.0,187.0 L723.5,186.9 L724.0,186.8 L724.5,186.8 L725.0,186.7 L725.5,186.7 L726.0,186.6 L726.5,186.6 L727.0,186.5 L727.5,186.5 L728.0,186.4 L728.5,186.4 L729.0,186.3 L729.5,186.3 L730.0,186.3 L730.5,186.2 L731.0,186.2 L731.5,186.1 L732.0,186.1 L732.5,186.0 L733.0,186.0 L733.5,186.0 L734.0,185.9 L734.5,185.9 L735.0,185.8 L735.3,185.8" stroke-width="3.4"/>
<path d="M57.0,178.2 L57.5,178.1 L58.0,178.1 L58.5,178.0 L59.0,178.0 L59.5,177.9 L60.0,177.8 L60.5,177.8 L61.0,177.7 L61.5,177.7 L62.0,177.6 L62.5,177.6 L63.0,177.6 L63.5,177.5 L64.0,177.5 L64.5,177.4 L65.0,177.4 L65.5,177.4 L66.0,177.3 L66.5,177.3 L67.0,177.3 L67.5,177.2 L68.0,177.2 L68.5,177.2 L69.0,177.2 L69.5,177.1 L70.0,177.1 L70.5,177.1 L71.0,177.1 L71.5,177.1 L72.0,177.0 L72.5,177.0 L73.0,177.0 L73.5,177.0 L74.0,177.0 L74.5,177.0 L75.0,177.0 L75.5,177.0 L76.0,177.0 L76.5,177.0 L77.0,177.0 L77.5,177.0 L78.0,177.0 L78.5,177.0 L79.0,177.0 L79.5,177.0 L80.0,177.0 L80.5,177.0 L81.0,177.0 L81.5,177.0 L82.0,177.0 L82.5,177.1 L83.0,177.1 L83.5,177.1 L84.0,177.1 L84.5,177.1 L85.0,177.1 L85.5,177.2 L86.0,177.2 L86.5,177.2 L87.0,177.2 L87.5,177.2 L88.0,177.3 L88.5,177.3 L89.0,177.3 L89.5,177.4 L90.0,177.4 L90.5,177.5 L91.0,177.5 L91.5,177.5 L92.0,177.6 L92.5,177.7 L93.0,177.7 L93.5,177.8 L94.0,177.8 L94.5,177.9 L95.0,177.9 L95.5,178.0 L96.0,178.0 L96.5,178.1 L97.0,178.2 L97.5,178.2 L98.0,178.3 L98.5,178.4 L99.0,178.4 L99.5,178.5 L100.0,178.5 L100.5,178.6 L101.0,178.7 L101.5,178.7 L102.0,178.8 L102.5,178.9 L103.0,178.9 L103.5,179.0 L104.0,179.1 L104.5,179.1 L105.0,179.2 L105.5,179.3 L106.0,179.4 L106.5,179.4 L107.0,179.5 L107.5,179.6 L108.0,179.6 L108.5,179.7 L109.0,179.8 L109.5,179.9 L110.0,179.9 L110.5,180.0 L111.0,180.1 L111.5,180.1 L112.0,180.2 L112.5,180.2 L113.0,180.2 L113.5,180.3 L114.0,180.3 L114.5,180.3 L115.0,180.3 L115.5,180.3 L116.0,180.3 L116.5,180.2 L117.0,180.0 L117.5,179.9 L118.0,179.7 L118.5,179.5 L119.0,179.2 L119.5,178.9 L120.0,178.6 L120.5,178.3 L121.0,178.0 L121.5,177.6 L122.0,177.2 L122.5,176.8 L123.0,176.4 L123.5,176.0 L124.0,175.6 L124.5,175.2 L125.0,174.8 L125.5,174.5 L126.0,174.1 L126.5,173.8 L127.0,173.4 L127.5,173.1 L128.0,172.8 L128.5,172.5 L129.0,172.2 L129.5,172.0 L130.0,171.7 L130.5,171.4 L131.0,171.2 L131.5,171.0 L132.0,170.8 L132.5,170.7 L133.0,170.6 L133.5,170.6 L134.0,170.5 L134.5,170.5 L135.0,170.5 L135.5,170.6 L136.0,170.6 L136.5,170.7 L137.0,170.9 L137.5,171.1 L138.0,171.4 L138.5,171.7 L139.0,172.1 L139.5,172.5 L140.0,173.0 L140.5,173.6 L141.0,174.2 L141.5,175.0 L142.0,175.9 L142.5,176.9 L143.0,178.0 L143.5,179.1 L144.0,180.3 L144.5,181.5 L145.0,182.8 L145.5,184.1 L146.0,185.5 L146.5,186.8 L147.0,188.2 L147.5,189.6 L148.0,190.9 L148.5,192.2 L149.0,193.5 L149.5,194.8 L150.0,196.1 L150.5,197.4 L151.0,198.7 L151.5,200.0 L152.0,201.3 L152.5,202.6 L153.0,203.9 L153.5,205.2 L154.0,206.5 L154.5,207.7 L155.0,209.0 L155.5,210.3 L156.0,211.6 L156.5,212.9 L157.0,214.1 L157.5,215.4 L158.0,216.6 L158.5,217.8 L159.0,219.1 L159.5,220.3 L160.0,221.5 L160.5,222.6 L161.0,223.8 L161.5,224.9 L162.0,225.9 L162.5,226.9 L163.0,227.7 L163.5,228.5 L164.0,229.1 L164.5,229.5 L165.0,229.7 L165.5,229.7 L166.0,229.3 L166.5,228.7 L167.0,227.8 L167.5,226.8 L168.0,225.5 L168.5,223.6 L169.0,221.5 L169.5,219.4 L170.0,217.3 L170.5,215.2 L171.0,213.1 L171.5,211.1 L172.0,209.0 L172.5,206.8 L173.0,204.6 L173.5,202.2 L174.0,199.9 L174.5,197.6 L175.0,195.2 L175.5,192.9 L176.0,190.5 L176.5,188.0 L177.0,185.5 L177.5,182.9 L178.0,180.2 L178.5,177.6 L179.0,175.0 L179.5,172.3 L180.0,169.7 L180.5,167.2 L181.0,165.0 L181.5,163.0 L182.0,161.0 L182.5,159.0 L183.0,157.0 L183.5,155.0 L184.0,152.9 L184.5,150.9 L185.0,148.9 L185.5,146.9 L186.0,144.9 L186.5,143.0 L187.0,141.1 L187.5,139.2 L188.0,137.4 L188.5,135.6 L189.0,133.9 L189.5,132.3 L190.0,130.9 L190.5,129.6 L191.0,128.5 L191.5,127.5 L192.0,126.6 L192.5,125.8 L193.0,125.0 L193.5,124.3 L194.0,123.7 L194.5,123.1 L195.0,122.6 L195.5,122.2 L196.0,121.8 L196.5,121.4 L197.0,121.0 L197.5,120.7 L198.0,120.4 L198.5,120.2 L199.0,120.0 L199.5,119.8 L200.0,119.7 L200.5,119.6 L201.0,119.6 L201.5,119.7 L202.0,119.8 L202.5,119.9 L203.0,120.1 L203.5,120.3 L204.0,120.5 L204.5,120.8 L205.0,121.1 L205.5,121.4 L206.0,121.8 L206.5,122.3 L207.0,122.8 L207.5,123.4 L208.0,124.0 L208.5,124.7 L209.0,125.5 L209.5,126.3 L210.0,127.1 L210.5,127.9 L211.0,128.7 L211.5,129.6 L212.0,130.6 L212.5,131.5 L213.0,132.6 L213.5,133.7 L214.0,134.9 L214.5,136.2 L215.0,137.6 L215.5,139.0 L216.0,140.6 L216.5,142.3 L217.0,144.1 L217.5,145.9 L218.0,147.8 L218.5,149.8 L219.0,151.9 L219.5,154.0 L220.0,156.1 L220.5,158.3 L221.0,160.4 L221.5,162.5 L222.0,164.5 L222.5,166.4 L223.0,168.4 L223.5,170.3 L224.0,172.2 L224.5,174.0 L225.0,175.9 L225.5,177.6 L226.0,179.3 L226.5,181.0 L227.0,182.6 L227.5,184.2 L228.0,185.7 L228.5,187.3 L229.0,188.8 L229.5,190.3 L230.0,191.8 L230.5,193.3 L231.0,194.7 L231.5,196.2 L232.0,197.6 L232.5,199.0 L233.0,200.4 L233.5,201.8 L234.0,203.1 L234.5,204.3 L235.0,205.5 L235.5,206.6 L236.0,207.6 L236.5,208.6 L237.0,209.6 L237.5,210.5 L238.0,211.3 L238.5,212.1 L239.0,212.8 L239.5,213.4 L240.0,214.0 L240.5,214.5 L241.0,215.0 L241.5,215.4 L242.0,215.8 L242.5,216.2 L243.0,216.5 L243.5,216.8 L244.0,217.1 L244.5,217.3 L245.0,217.4 L245.5,217.5 L246.0,217.5 L246.5,217.5 L247.0,217.4 L247.5,217.4 L248.0,217.3 L248.5,217.2 L249.0,217.1 L249.5,217.0 L250.0,216.8 L250.5,216.5 L251.0,216.3 L251.5,216.0 L252.0,215.7 L252.5,215.3 L253.0,215.0 L253.5,214.7 L254.0,214.3 L254.5,214.0 L255.0,213.7 L255.5,213.3 L256.0,213.0 L256.5,212.7 L257.0,212.3 L257.5,212.0 L258.0,211.7 L258.5,211.4 L259.0,211.1 L259.5,210.8 L260.0,210.5 L260.5,210.2 L261.0,209.9 L261.5,209.6 L262.0,209.3 L262.5,209.0 L263.0,208.7 L263.5,208.4 L264.0,208.2 L264.5,208.0 L265.0,207.8 L265.5,207.7 L266.0,207.5 L266.5,207.4 L267.0,207.3 L267.5,207.2 L268.0,207.1 L268.5,207.1 L269.0,207.0 L269.5,207.0 L270.0,206.9 L270.5,206.9 L271.0,206.8 L271.5,206.8 L272.0,206.8 L272.5,206.8 L273.0,206.8 L273.5,206.8 L274.0,206.8 L274.5,206.9 L275.0,206.9 L275.5,207.0 L276.0,207.0 L276.5,207.1 L277.0,207.2 L277.5,207.2 L278.0,207.3 L278.5,207.4 L279.0,207.5 L279.5,207.6 L280.0,207.8 L280.5,207.9 L281.0,208.1 L281.5,208.2 L282.0,208.4 L282.5,208.6 L283.0,208.8 L283.5,209.0 L284.0,209.2 L284.5,209.4 L285.0,209.7 L285.5,209.9 L286.0,210.1 L286.5,210.3 L287.0,210.6 L287.5,210.8 L288.0,211.0 L288.5,211.3 L289.0,211.5 L289.5,211.8 L290.0,212.0 L290.5,212.3 L291.0,212.5 L291.5,212.8 L292.0,213.1 L292.5,213.4 L293.0,213.7 L293.5,214.0 L294.0,214.4 L294.5,214.7 L295.0,215.1 L295.5,215.5 L296.0,216.0 L296.5,216.6 L297.0,217.2 L297.5,217.8 L298.0,218.5 L298.5,219.2 L299.0,220.0 L299.5,220.8 L300.0,221.6 L300.5,222.5 L301.0,223.3 L301.5,224.2 L302.0,225.0 L302.5,225.8 L303.0,226.5 L303.5,227.2 L304.0,227.9 L304.5,228.6 L305.0,229.3 L305.5,230.0 L306.0,230.7 L306.5,231.4 L307.0,232.1 L307.5,232.9 L308.0,233.6 L308.5,234.3 L309.0,235.0 L309.5,235.7 L310.0,236.4 L310.5,237.1 L311.0,237.8 L311.5,238.5 L312.0,239.2 L312.5,239.9 L313.0,240.6 L313.5,241.3 L314.0,242.0 L314.5,242.7 L315.0,243.4 L315.5,244.1 L316.0,244.8 L316.5,245.5 L317.0,246.2 L317.5,246.9 L318.0,247.6 L318.5,248.3 L319.0,248.9 L319.5,249.5 L320.0,250.1 L320.5,250.6 L321.0,251.1 L321.5,251.6 L322.0,252.0 L322.5,252.5 L323.0,252.9 L323.5,253.3 L324.0,253.7 L324.5,254.1 L325.0,254.4 L325.5,254.8 L326.0,255.1 L326.5,255.4 L327.0,255.8 L327.5,256.1 L328.0,256.3 L328.5,256.6 L329.0,256.8 L329.5,257.1 L330.0,257.3 L330.5,257.5 L331.0,257.7 L331.5,257.9 L332.0,258.0 L332.5,258.2 L333.0,258.3 L333.5,258.5 L334.0,258.6 L334.5,258.7 L335.0,258.8 L335.5,258.9 L336.0,259.0 L336.5,259.1 L337.0,259.2 L337.5,259.2 L338.0,259.3 L338.5,259.3 L339.0,259.3 L339.5,259.3 L340.0,259.3 L340.5,259.3 L341.0,259.2 L341.5,259.2 L342.0,259.1 L342.5,259.1 L343.0,259.0 L343.5,258.9 L344.0,258.8 L344.5,258.7 L345.0,258.6 L345.5,258.4 L346.0,258.3 L346.5,258.1 L347.0,257.9 L347.5,257.7 L348.0,257.5 L348.5,257.3 L349.0,257.1 L349.5,256.9 L350.0,256.6 L350.5,256.4 L351.0,256.2 L351.5,255.9 L352.0,255.7 L352.5,255.4 L353.0,255.1 L353.5,254.8 L354.0,254.5 L354.5,254.2 L355.0,253.9 L355.5,253.5 L356.0,253.2 L356.5,252.8 L357.0,252.4 L357.5,252.1 L358.0,251.7 L358.5,251.3 L359.0,250.9 L359.5,250.5 L360.0,250.2 L360.5,249.8 L361.0,249.4 L361.5,249.0 L362.0,248.6 L362.5,248.3 L363.0,247.9 L363.5,247.5 L364.0,247.1 L364.5,246.8 L365.0,246.4 L365.5,246.0 L366.0,245.7 L366.5,245.3 L367.0,244.9 L367.5,244.5 L368.0,244.2 L368.5,243.8 L369.0,243.4 L369.5,243.1 L370.0,242.7 L370.5,242.3 L371.0,242.0 L371.5,241.6 L372.0,241.2 L372.5,240.8 L373.0,240.5 L373.5,240.1 L374.0,239.7 L374.5,239.4 L375.0,239.0 L375.5,238.6 L376.0,238.2 L376.5,237.8 L377.0,237.5 L377.5,237.1 L378.0,236.7 L378.5,236.3 L379.0,235.9 L379.5,235.5 L380.0,235.1 L380.5,234.8 L381.0,234.4 L381.5,234.0 L382.0,233.6 L382.5,233.2 L383.0,232.9 L383.5,232.5 L384.0,232.2 L384.5,231.8 L385.0,231.5 L385.5,231.2 L386.0,230.9 L386.5,230.6 L387.0,230.3 L387.5,230.0 L388.0,229.7 L388.5,229.3 L389.0,229.0 L389.5,228.7 L390.0,228.4 L390.5,228.0 L391.0,227.7 L391.5,227.3 L392.0,226.9 L392.5,226.5 L393.0,226.1 L393.5,225.7 L394.0,225.3 L394.5,224.9 L395.0,224.5 L395.5,224.1 L396.0,223.7 L396.5,223.3 L397.0,222.9 L397.5,222.5 L398.0,222.1 L398.5,221.7 L399.0,221.3 L399.5,220.9 L400.0,220.5 L400.5,220.1 L401.0,219.7 L401.5,219.3 L402.0,218.9 L402.5,218.5 L403.0,218.1 L403.5,217.7 L404.0,217.3 L404.5,216.8 L405.0,216.4 L405.5,216.0 L406.0,215.6 L406.5,215.2 L407.0,214.7 L407.5,214.2 L408.0,213.7 L408.5,213.1 L409.0,212.6 L409.5,212.0 L410.0,211.4 L410.5,210.7 L411.0,210.1 L411.5,209.5 L412.0,208.8 L412.5,208.1 L413.0,207.5 L413.5,206.8 L414.0,206.1 L414.5,205.4 L415.0,204.8 L415.5,204.1 L416.0,203.4 L416.5,202.7 L417.0,202.0 L417.5,201.2 L418.0,200.5 L418.5,199.8 L419.0,199.1 L419.5,198.3 L420.0,197.6 L420.5,196.8 L421.0,196.0 L421.5,195.3 L422.0,194.5 L422.5,193.7 L423.0,193.0 L423.5,192.2 L424.0,191.5 L424.5,190.8 L425.0,190.1 L425.5,189.4 L426.0,188.6 L426.5,188.0 L427.0,187.3 L427.5,186.6 L428.0,185.9 L428.5,185.2 L429.0,184.6 L429.5,183.9 L430.0,183.3 L430.5,182.6 L431.0,182.0 L431.5,181.4 L432.0,180.9 L432.5,180.4 L433.0,179.9 L433.5,179.4 L434.0,178.9 L434.5,178.4 L435.0,177.8 L435.5,177.3 L436.0,176.7 L436.5,176.2 L437.0,175.5 L437.5,174.9 L438.0,174.2 L438.5,173.5 L439.0,172.7 L439.5,172.0 L440.0,171.3 L440.5,170.5 L441.0,169.8 L441.5,169.1 L442.0,168.4 L442.5,167.6 L443.0,166.9 L443.5,166.2 L444.0,165.5 L444.5,164.9 L445.0,164.2 L445.5,163.5 L446.0,162.8 L446.5,162.2 L447.0,161.5 L447.5,160.9 L448.0,160.3 L448.5,159.7 L449.0,159.2 L449.5,158.7 L450.0,158.3 L450.5,157.8 L451.0,157.4 L451.5,157.0 L452.0,156.6 L452.5,156.2 L453.0,155.8 L453.5,155.5 L454.0,155.1 L454.5,154.8 L455.0,154.5 L455.5,154.2 L456.0,154.0 L456.5,153.8 L457.0,153.5 L457.5,153.3 L458.0,153.1 L458.5,152.9 L459.0,152.7 L459.5,152.5 L460.0,152.3 L460.5,152.1 L461.0,151.9 L461.5,151.8 L462.0,151.6 L462.5,151.4 L463.0,151.3 L463.5,151.1 L464.0,151.0 L464.5,150.8 L465.0,150.6 L465.5,150.5 L466.0,150.3 L466.5,150.2 L467.0,150.0 L467.5,149.9 L468.0,149.7 L468.5,149.6 L469.0,149.4 L469.5,149.3 L470.0,149.1 L470.5,149.0 L471.0,148.8 L471.5,148.7 L472.0,148.6 L472.5,148.4 L473.0,148.3 L473.5,148.2 L474.0,148.1 L474.5,147.9 L475.0,147.8 L475.5,147.7 L476.0,147.6 L476.5,147.4 L477.0,147.3 L477.5,147.2 L478.0,147.1 L478.5,147.0 L479.0,146.8 L479.5,146.7 L480.0,146.6 L480.5,146.5 L481.0,146.4 L481.5,146.2 L482.0,146.1 L482.5,146.0 L483.0,145.9 L483.5,145.8 L484.0,145.6 L484.5,145.5 L485.0,145.4 L485.5,145.2 L486.0,145.1 L486.5,145.0 L487.0,144.9 L487.5,144.7 L488.0,144.6 L488.5,144.5 L489.0,144.4 L489.5,144.2 L490.0,144.1 L490.5,144.0 L491.0,143.9 L491.5,143.7 L492.0,143.6 L492.5,143.5 L493.0,143.3 L493.5,143.2 L494.0,143.1 L494.5,142.9 L495.0,142.8 L495.5,142.7 L496.0,142.5 L496.5,142.4 L497.0,142.3 L497.5,142.1 L498.0,142.0 L498.5,141.8 L499.0,141.7 L499.5,141.6 L500.0,141.4 L500.5,141.3 L501.0,141.1 L501.5,141.0 L502.0,140.8 L502.5,140.7 L503.0,140.6 L503.5,140.4 L504.0,140.3 L504.5,140.1 L505.0,140.0 L505.5,139.9 L506.0,139.7 L506.5,139.6 L507.0,139.5 L507.5,139.4 L508.0,139.2 L508.5,139.1 L509.0,139.0 L509.5,138.9 L510.0,138.8 L510.5,138.7 L511.0,138.5 L511.5,138.4 L512.0,138.3 L512.5,138.2 L513.0,138.1 L513.5,138.0 L514.0,137.9 L514.5,137.8 L515.0,137.7 L515.5,137.6 L516.0,137.5 L516.5,137.4 L517.0,137.3 L517.5,137.3 L518.0,137.2 L518.5,137.2 L519.0,137.1 L519.5,137.1 L520.0,137.1 L520.5,137.0 L521.0,137.0 L521.5,137.0 L522.0,137.0 L522.5,137.0 L523.0,137.1 L523.5,137.1 L524.0,137.2 L524.5,137.3 L525.0,137.4 L525.5,137.5 L526.0,137.6 L526.5,137.8 L527.0,137.9 L527.5,138.1 L528.0,138.3 L528.5,138.5 L529.0,138.7 L529.5,138.9 L530.0,139.1 L530.5,139.3 L531.0,139.6 L531.5,139.8 L532.0,140.1 L532.5,140.3 L533.0,140.6 L533.5,140.8 L534.0,141.1 L534.5,141.3 L535.0,141.6 L535.5,141.8 L536.0,142.0 L536.5,142.2 L537.0,142.4 L537.5,142.5 L538.0,142.7 L538.5,142.8 L539.0,143.0 L539.5,143.1 L540.0,143.3 L540.5,143.4 L541.0,143.5 L541.5,143.7 L542.0,143.8 L542.5,144.0 L543.0,144.1 L543.5,144.3 L544.0,144.5 L544.5,144.7 L545.0,144.9 L545.5,145.2 L546.0,145.5 L546.5,145.8 L547.0,146.1 L547.5,146.5 L548.0,146.9 L548.5,147.2 L549.0,147.5 L549.5,147.8 L550.0,148.0 L550.5,148.2 L551.0,148.4 L551.5,148.6 L552.0,148.7 L552.5,148.9 L553.0,149.1 L553.5,149.3 L554.0,149.4 L554.5,149.6 L555.0,149.8 L555.5,150.0 L556.0,150.1 L556.5,150.3 L557.0,150.5 L557.5,150.7 L558.0,150.8 L558.5,151.0 L559.0,151.2 L559.5,151.4 L560.0,151.6 L560.5,151.8 L561.0,152.0 L561.5,152.2 L562.0,152.4 L562.5,152.6 L563.0,152.8 L563.5,153.0 L564.0,153.2 L564.5,153.5 L565.0,153.7 L565.5,153.9 L566.0,154.1 L566.5,154.3 L567.0,154.5 L567.5,154.7 L568.0,154.9 L568.5,155.1 L569.0,155.4 L569.5,155.6 L570.0,155.8 L570.5,155.9 L571.0,156.1 L571.5,156.3 L572.0,156.5 L572.5,156.7 L573.0,156.9 L573.5,157.0 L574.0,157.2 L574.5,157.4 L575.0,157.5 L575.5,157.7 L576.0,157.8 L576.5,158.0 L577.0,158.1 L577.5,158.3 L578.0,158.5 L578.5,158.6 L579.0,158.8 L579.5,158.9 L580.0,159.1 L580.5,159.2 L581.0,159.4 L581.5,159.5 L582.0,159.7 L582.5,159.8 L583.0,160.0 L583.5,160.1 L584.0,160.3 L584.5,160.4 L585.0,160.6 L585.5,160.7 L586.0,160.9 L586.5,161.0 L587.0,161.2 L587.5,161.3 L588.0,161.5 L588.5,161.6 L589.0,161.8 L589.5,161.9 L590.0,162.1 L590.5,162.2 L591.0,162.4 L591.5,162.5 L592.0,162.7 L592.5,162.8 L593.0,163.0 L593.5,163.1 L594.0,163.3 L594.5,163.4 L595.0,163.6 L595.5,163.7 L596.0,163.9 L596.5,164.0 L597.0,164.1 L597.5,164.3 L598.0,164.4 L598.5,164.6 L599.0,164.7 L599.5,164.9 L600.0,165.0 L600.5,165.2 L601.0,165.3 L601.5,165.5 L602.0,165.6 L602.5,165.8 L603.0,165.9 L603.5,166.1 L604.0,166.2 L604.5,166.4 L605.0,166.5 L605.5,166.7 L606.0,166.8 L606.5,167.0 L607.0,167.2 L607.5,167.3 L608.0,167.5 L608.5,167.7 L609.0,167.8 L609.5,168.0 L610.0,168.2 L610.5,168.3 L611.0,168.5 L611.5,168.7 L612.0,168.9 L612.5,169.1 L613.0,169.2 L613.5,169.4 L614.0,169.6 L614.5,169.8 L615.0,170.0 L615.5,170.2 L616.0,170.4 L616.5,170.6 L617.0,170.8 L617.5,171.0 L618.0,171.2 L618.5,171.4 L619.0,171.6 L619.5,171.8 L620.0,172.1 L620.5,172.3 L621.0,172.6 L621.5,172.9 L622.0,173.2 L622.5,173.5 L623.0,173.8 L623.5,174.0 L624.0,174.3 L624.5,174.6 L625.0,174.8 L625.5,175.0 L626.0,175.2 L626.5,175.4 L627.0,175.6 L627.5,175.8 L628.0,176.0 L628.5,176.2 L629.0,176.3 L629.5,176.5 L630.0,176.7 L630.5,176.9 L631.0,177.0 L631.5,177.2 L632.0,177.4 L632.5,177.6 L633.0,177.8 L633.5,178.0 L634.0,178.3 L634.5,178.5 L635.0,178.8 L635.5,179.1 L636.0,179.4 L636.5,179.7 L637.0,179.9 L637.5,180.2 L638.0,180.5 L638.5,180.8 L639.0,181.0 L639.5,181.3 L640.0,181.5 L640.5,181.7 L641.0,181.9 L641.5,182.1 L642.0,182.3 L642.5,182.5 L643.0,182.7 L643.5,182.9 L644.0,183.0 L644.5,183.2 L645.0,183.4 L645.5,183.6 L646.0,183.7 L646.5,183.9 L647.0,184.0 L647.5,184.2 L648.0,184.3 L648.5,184.5 L649.0,184.6 L649.5,184.8 L650.0,184.9 L650.5,185.1 L651.0,185.2 L651.5,185.3 L652.0,185.4 L652.5,185.6 L653.0,185.7 L653.5,185.8 L654.0,185.9 L654.5,186.0 L655.0,186.1 L655.5,186.2 L656.0,186.3 L656.5,186.4 L657.0,186.5 L657.5,186.6 L658.0,186.7 L658.5,186.8 L659.0,186.9 L659.5,187.0 L660.0,187.1 L660.5,187.2 L661.0,187.3 L661.5,187.4 L662.0,187.5 L662.5,187.6 L663.0,187.6 L663.5,187.7 L664.0,187.8 L664.5,187.9 L665.0,187.9 L665.5,188.0 L666.0,188.1 L666.5,188.1 L667.0,188.2 L667.5,188.2 L668.0,188.3 L668.5,188.3 L669.0,188.4 L669.5,188.4 L670.0,188.5 L670.5,188.5 L671.0,188.5 L671.5,188.6 L672.0,188.6 L672.5,188.6 L673.0,188.7 L673.5,188.7 L674.0,188.7 L674.5,188.8 L675.0,188.8 L675.5,188.8 L676.0,188.8 L676.5,188.9 L677.0,188.9 L677.5,188.9 L678.0,189.0 L678.5,189.0 L679.0,189.0 L679.5,189.1 L680.0,189.1 L680.5,189.1 L681.0,189.1 L681.5,189.2 L682.0,189.2 L682.5,189.2 L683.0,189.2 L683.5,189.3 L684.0,189.3 L684.5,189.3 L685.0,189.3 L685.5,189.4 L686.0,189.4 L686.5,189.4 L687.0,189.5 L687.5,189.5 L688.0,189.5 L688.5,189.5 L689.0,189.6 L689.5,189.6 L690.0,189.6 L690.5,189.6 L691.0,189.7 L691.5,189.7 L692.0,189.7 L692.5,189.7 L693.0,189.8 L693.5,189.8 L694.0,189.8 L694.5,189.8 L695.0,189.8 L695.5,189.8 L696.0,189.9 L696.5,189.9 L697.0,189.9 L697.5,189.9 L698.0,189.9 L698.5,189.9 L699.0,189.9 L699.5,189.9 L700.0,189.9 L700.5,189.9 L701.0,189.9 L701.5,189.8 L702.0,189.8 L702.5,189.8 L703.0,189.8 L703.5,189.7 L704.0,189.7 L704.5,189.6 L705.0,189.6 L705.5,189.6 L706.0,189.5 L706.5,189.5 L707.0,189.4 L707.5,189.3 L708.0,189.3 L708.5,189.2 L709.0,189.2 L709.5,189.1 L710.0,189.1 L710.5,189.0 L711.0,188.9 L711.5,188.9 L712.0,188.8 L712.5,188.7 L713.0,188.7 L713.5,188.6 L714.0,188.5 L714.5,188.5 L715.0,188.4 L715.5,188.4 L716.0,188.3 L716.5,188.2 L717.0,188.1 L717.5,188.1 L718.0,188.0 L718.5,187.9 L719.0,187.9 L719.5,187.8 L720.0,187.7 L720.5,187.7 L721.0,187.6 L721.5,187.5 L722.0,187.4 L722.5,187.4 L723.0,187.3 L723.5,187.2 L724.0,187.2 L724.5,187.1 L725.0,187.0 L725.5,187.0 L726.0,186.9 L726.5,186.8 L727.0,186.8 L727.5,186.7 L728.0,186.6 L728.5,186.6 L729.0,186.5 L729.5,186.5 L730.0,186.4 L730.5,186.4 L731.0,186.3 L731.5,186.3 L732.0,186.2 L732.5,186.2 L733.0,186.1 L733.5,186.1 L734.0,186.0 L734.5,186.0 L735.0,185.9 L735.5,185.9" stroke-width="3.4"/>
</g>
<rect x="569.0" y="211.0" width="149.0" height="128.0" fill="#fff" stroke="#262626" stroke-width="1.25"/>
<g fill="none" stroke="#000">
<path d="M577.9,226.4 H634.8" stroke-width="3.4"/>
<path d="M577.9,250.7 H621" stroke-width="3.4" stroke-dasharray="14.8 14.4"/>
<path d="M577.9,274.8 H583" stroke-width="3.4"/><path d="M586.5,274.8 H631.2" stroke-width="3.4" stroke-dasharray="3 3.7"/>
<path d="M577.9,299.2 H631.2" stroke-width="3.4" stroke-dasharray="15 3.7 6.6 3.7"/>
<path d="M578.9,323.6 H634.8" stroke-width="1.3"/>
</g>
</svg>
<div class="t yt" style="top:0.29px">15</div>
<div class="t yt" style="top:58.72px">10</div>
<div class="t yt" style="top:117.16px">5</div>
<div class="t yt" style="top:175.59px">0</div>
<div class="t yt" style="top:234.02px">-5</div>
<div class="t yt" style="top:292.46px">-10</div>
<div class="t yt" style="top:350.89px">-15</div>
<div class="t xt" style="left:27.45px;top:369.32px">-50</div>
<div class="t xt" style="left:124.25px;top:369.32px">0</div>
<div class="t xt" style="left:221.05px;top:369.32px">50</div>
<div class="t xt" style="left:317.85px;top:369.32px">100</div>
<div class="t xt" style="left:414.65px;top:369.32px">150</div>
<div class="t xt" style="left:511.45px;top:369.32px">200</div>
<div class="t xt" style="left:608.25px;top:369.32px">250</div>
<div class="t xt" style="left:705.05px;top:369.32px">300</div>
<div class="t" style="font-size:17.8px;left:296px;width:200px;text-align:center;top:393.03px">Time (ms)</div>
<div class="t" style="font-size:18.1px;letter-spacing:0.1px;left:-85px;width:200px;text-align:center;top:173.15px;transform:rotate(-90deg) translateY(-6px)">Amplitude (<span style="font-family:'Liberation Serif',serif;font-style:italic;font-weight:normal;font-size:18.5px;-webkit-text-stroke:0;margin:0 1px 0 0.5px">&mu;</span>V)</div>
<div class="t lg" style="top:219.30px">8:00AM</div>
<div class="t lg" style="top:243.60px">10:30AM</div>
<div class="t lg" style="top:267.70px">1:00PM</div>
<div class="t lg" style="top:292.10px">3:30PM</div>
<div class="t lg" style="top:316.50px">6:00PM</div>
</div></body></html>
